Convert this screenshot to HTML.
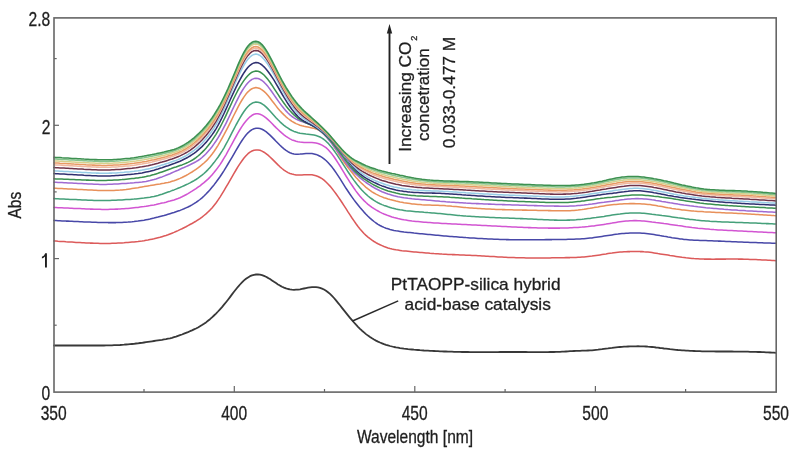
<!DOCTYPE html>
<html><head><meta charset="utf-8"><style>
html,body{margin:0;padding:0;background:#fff;}
body{width:794px;height:454px;overflow:hidden;position:relative;}
svg{position:absolute;left:0;top:0;will-change:transform;}
text{font-family:"Liberation Sans", sans-serif;}
</style></head><body>
<svg width="794" height="454" viewBox="0 0 794 454" xmlns="http://www.w3.org/2000/svg">
<g fill="none" stroke-width="1.6" stroke-linejoin="round" stroke-linecap="round">
<path d="M54,345.5 L56,345.5 L58,345.5 L60,345.5 L62,345.5 L64,345.5 L66,345.5 L68,345.5 L70,345.5 L72,345.5 L74,345.5 L76,345.5 L78,345.5 L80,345.5 L82,345.5 L84,345.5 L86,345.5 L88,345.5 L90,345.5 L92,345.5 L94,345.5 L96,345.5 L98,345.5 L100,345.5 L102,345.5 L104,345.5 L106,345.4 L108,345.4 L110,345.4 L112,345.3 L114,345.2 L116,345.2 L118,345.1 L120,345.0 L122,344.8 L124,344.7 L126,344.5 L128,344.4 L130,344.2 L132,344.0 L134,343.8 L136,343.5 L138,343.3 L140,343.0 L142,342.8 L144,342.5 L146,342.2 L148,341.9 L150,341.6 L152,341.3 L154,341.0 L156,340.7 L158,340.4 L160,340.1 L162,339.8 L164,339.4 L166,339.1 L168,338.7 L170,338.3 L172,337.8 L174,337.2 L176,336.6 L178,335.9 L180,335.2 L182,334.5 L184,333.7 L186,332.9 L188,332.1 L190,331.2 L192,330.4 L194,329.4 L196,328.5 L198,327.5 L200,326.3 L202,325.1 L204,323.8 L206,322.4 L208,320.8 L210,319.2 L212,317.4 L214,315.5 L216,313.6 L218,311.5 L220,309.3 L222,307.1 L224,304.7 L226,302.2 L228,299.7 L230,297.1 L232,294.4 L234,291.8 L236,289.3 L238,286.8 L240,284.5 L242,282.4 L244,280.4 L246,278.8 L248,277.4 L250,276.2 L252,275.4 L254,274.8 L256,274.5 L258,274.5 L260,274.7 L262,275.2 L264,275.9 L266,276.8 L268,277.9 L270,279.1 L272,280.4 L274,281.8 L276,283.1 L278,284.4 L280,285.6 L282,286.7 L284,287.6 L286,288.4 L288,289.0 L290,289.4 L292,289.7 L294,289.8 L296,289.7 L298,289.6 L300,289.3 L302,288.9 L304,288.5 L306,288.1 L308,287.7 L310,287.4 L312,287.2 L314,287.1 L316,287.2 L318,287.4 L320,287.9 L322,288.6 L324,289.5 L326,290.7 L328,292.2 L330,293.9 L332,295.9 L334,298.0 L336,300.4 L338,302.8 L340,305.3 L342,307.9 L344,310.4 L346,312.9 L348,315.4 L350,317.8 L352,320.2 L354,322.5 L356,324.7 L358,326.8 L360,328.8 L362,330.7 L364,332.4 L366,334.1 L368,335.6 L370,337.0 L372,338.3 L374,339.5 L376,340.6 L378,341.6 L380,342.5 L382,343.3 L384,344.1 L386,344.8 L388,345.4 L390,346.0 L392,346.5 L394,347.0 L396,347.4 L398,347.7 L400,348.1 L402,348.3 L404,348.6 L406,348.8 L408,349.1 L410,349.3 L412,349.5 L414,349.7 L416,349.8 L418,350.0 L420,350.2 L422,350.3 L424,350.5 L426,350.6 L428,350.7 L430,350.8 L432,350.9 L434,351.0 L436,351.1 L438,351.2 L440,351.3 L442,351.4 L444,351.5 L446,351.5 L448,351.6 L450,351.7 L452,351.7 L454,351.8 L456,351.8 L458,351.9 L460,351.9 L462,352.0 L464,352.0 L466,352.0 L468,352.0 L470,352.1 L472,352.1 L474,352.1 L476,352.1 L478,352.1 L480,352.1 L482,352.1 L484,352.1 L486,352.1 L488,352.1 L490,352.1 L492,352.1 L494,352.1 L496,352.1 L498,352.1 L500,352.0 L502,352.0 L504,352.0 L506,352.0 L508,352.0 L510,352.0 L512,352.0 L514,352.0 L516,352.0 L518,352.0 L520,352.0 L522,352.0 L524,352.0 L526,352.0 L528,352.1 L530,352.1 L532,352.1 L534,352.1 L536,352.1 L538,352.1 L540,352.1 L542,352.1 L544,352.1 L546,352.1 L548,352.1 L550,352.0 L552,352.0 L554,352.0 L556,351.9 L558,351.8 L560,351.8 L562,351.7 L564,351.6 L566,351.5 L568,351.4 L570,351.2 L572,351.1 L574,351.0 L576,350.9 L578,350.8 L580,350.8 L582,350.7 L584,350.7 L586,350.6 L588,350.5 L590,350.4 L592,350.3 L594,350.1 L596,349.9 L598,349.7 L600,349.4 L602,349.2 L604,348.9 L606,348.6 L608,348.4 L610,348.1 L612,347.9 L614,347.6 L616,347.4 L618,347.2 L620,347.0 L622,346.9 L624,346.7 L626,346.6 L628,346.5 L630,346.4 L632,346.4 L634,346.3 L636,346.3 L638,346.2 L640,346.3 L642,346.3 L644,346.4 L646,346.5 L648,346.7 L650,346.8 L652,347.0 L654,347.2 L656,347.5 L658,347.7 L660,348.0 L662,348.2 L664,348.5 L666,348.7 L668,348.9 L670,349.2 L672,349.4 L674,349.6 L676,349.8 L678,350.0 L680,350.1 L682,350.3 L684,350.4 L686,350.6 L688,350.7 L690,350.8 L692,350.9 L694,351.0 L696,351.1 L698,351.1 L700,351.2 L702,351.3 L704,351.3 L706,351.3 L708,351.4 L710,351.4 L712,351.4 L714,351.4 L716,351.5 L718,351.5 L720,351.5 L722,351.5 L724,351.5 L726,351.5 L728,351.5 L730,351.5 L732,351.5 L734,351.6 L736,351.6 L738,351.6 L740,351.6 L742,351.6 L744,351.7 L746,351.7 L748,351.7 L750,351.8 L752,351.8 L754,351.9 L756,351.9 L758,352.0 L760,352.0 L762,352.1 L764,352.2 L766,352.3 L768,352.4 L770,352.5 L772,352.6 L774,352.7 L776,352.8" stroke="#383838" stroke-width="1.8"/>
<path d="M54,241.0 L56,241.1 L58,241.3 L60,241.4 L62,241.5 L64,241.6 L66,241.8 L68,241.9 L70,242.0 L72,242.1 L74,242.2 L76,242.4 L78,242.5 L80,242.6 L82,242.7 L84,242.8 L86,242.9 L88,243.0 L90,243.1 L92,243.1 L94,243.2 L96,243.3 L98,243.3 L100,243.4 L102,243.4 L104,243.4 L106,243.4 L108,243.4 L110,243.4 L112,243.3 L114,243.3 L116,243.2 L118,243.1 L120,243.0 L122,242.9 L124,242.8 L126,242.6 L128,242.5 L130,242.3 L132,242.1 L134,241.9 L136,241.7 L138,241.5 L140,241.2 L142,241.0 L144,240.7 L146,240.3 L148,240.0 L150,239.6 L152,239.2 L154,238.8 L156,238.3 L158,237.8 L160,237.3 L162,236.7 L164,236.1 L166,235.5 L168,234.8 L170,234.0 L172,233.2 L174,232.4 L176,231.5 L178,230.6 L180,229.6 L182,228.7 L184,227.7 L186,226.7 L188,225.6 L190,224.5 L192,223.5 L194,222.3 L196,221.2 L198,219.9 L200,218.6 L202,217.1 L204,215.5 L206,213.9 L208,212.0 L210,210.1 L212,207.9 L214,205.5 L216,203.0 L218,200.1 L220,197.1 L222,193.9 L224,190.6 L226,187.2 L228,183.8 L230,180.3 L232,176.8 L234,173.4 L236,170.0 L238,166.7 L240,163.6 L242,160.7 L244,158.0 L246,155.7 L248,153.7 L250,152.1 L252,151.0 L254,150.2 L256,149.9 L258,149.9 L260,150.3 L262,151.1 L264,152.2 L266,153.6 L268,155.2 L270,157.0 L272,158.9 L274,160.9 L276,162.9 L278,164.9 L280,166.8 L282,168.5 L284,170.1 L286,171.4 L288,172.6 L290,173.5 L292,174.1 L294,174.6 L296,174.9 L298,175.0 L300,175.0 L302,174.9 L304,174.8 L306,174.7 L308,174.7 L310,174.7 L312,174.8 L314,175.2 L316,175.7 L318,176.5 L320,177.5 L322,178.7 L324,180.2 L326,182.0 L328,184.0 L330,186.1 L332,188.5 L334,191.1 L336,193.7 L338,196.6 L340,199.5 L342,202.5 L344,205.6 L346,208.7 L348,211.9 L350,214.9 L352,218.0 L354,220.9 L356,223.8 L358,226.5 L360,229.0 L362,231.3 L364,233.5 L366,235.4 L368,237.1 L370,238.7 L372,240.2 L374,241.5 L376,242.7 L378,243.8 L380,244.7 L382,245.6 L384,246.5 L386,247.2 L388,247.9 L390,248.5 L392,249.0 L394,249.4 L396,249.8 L398,250.1 L400,250.4 L402,250.7 L404,250.9 L406,251.1 L408,251.3 L410,251.5 L412,251.7 L414,251.9 L416,252.0 L418,252.2 L420,252.4 L422,252.6 L424,252.8 L426,253.0 L428,253.1 L430,253.3 L432,253.4 L434,253.6 L436,253.7 L438,253.8 L440,253.9 L442,254.1 L444,254.2 L446,254.3 L448,254.4 L450,254.5 L452,254.6 L454,254.6 L456,254.7 L458,254.8 L460,254.9 L462,255.0 L464,255.1 L466,255.2 L468,255.3 L470,255.3 L472,255.4 L474,255.5 L476,255.6 L478,255.7 L480,255.8 L482,256.0 L484,256.1 L486,256.2 L488,256.3 L490,256.4 L492,256.5 L494,256.6 L496,256.7 L498,256.9 L500,257.0 L502,257.1 L504,257.2 L506,257.3 L508,257.4 L510,257.4 L512,257.5 L514,257.6 L516,257.7 L518,257.7 L520,257.8 L522,257.8 L524,257.8 L526,257.9 L528,257.9 L530,257.9 L532,257.9 L534,257.9 L536,257.9 L538,257.9 L540,257.9 L542,257.9 L544,257.9 L546,257.9 L548,257.9 L550,257.9 L552,257.8 L554,257.8 L556,257.8 L558,257.8 L560,257.7 L562,257.7 L564,257.7 L566,257.6 L568,257.6 L570,257.6 L572,257.5 L574,257.4 L576,257.4 L578,257.3 L580,257.2 L582,257.0 L584,256.9 L586,256.7 L588,256.5 L590,256.3 L592,256.1 L594,255.8 L596,255.5 L598,255.2 L600,254.9 L602,254.6 L604,254.3 L606,254.0 L608,253.6 L610,253.3 L612,253.1 L614,252.8 L616,252.5 L618,252.3 L620,252.1 L622,252.0 L624,251.8 L626,251.7 L628,251.6 L630,251.6 L632,251.5 L634,251.5 L636,251.5 L638,251.5 L640,251.6 L642,251.6 L644,251.8 L646,251.9 L648,252.1 L650,252.3 L652,252.6 L654,252.9 L656,253.2 L658,253.6 L660,253.9 L662,254.2 L664,254.5 L666,254.8 L668,255.1 L670,255.5 L672,255.8 L674,256.1 L676,256.4 L678,256.7 L680,257.0 L682,257.3 L684,257.5 L686,257.8 L688,258.0 L690,258.2 L692,258.4 L694,258.6 L696,258.7 L698,258.8 L700,258.9 L702,259.0 L704,259.1 L706,259.1 L708,259.1 L710,259.1 L712,259.2 L714,259.2 L716,259.1 L718,259.1 L720,259.1 L722,259.1 L724,259.1 L726,259.1 L728,259.0 L730,259.0 L732,259.0 L734,259.0 L736,259.0 L738,259.1 L740,259.1 L742,259.1 L744,259.2 L746,259.2 L748,259.3 L750,259.4 L752,259.4 L754,259.5 L756,259.6 L758,259.7 L760,259.8 L762,259.9 L764,260.0 L766,260.1 L768,260.2 L770,260.3 L772,260.5 L774,260.6 L776,260.7" stroke="#dc5a5a" stroke-width="1.55"/>
<path d="M54,220.5 L56,220.6 L58,220.7 L60,220.8 L62,220.9 L64,221.0 L66,221.1 L68,221.1 L70,221.2 L72,221.3 L74,221.4 L76,221.5 L78,221.6 L80,221.7 L82,221.8 L84,221.9 L86,221.9 L88,222.0 L90,222.1 L92,222.2 L94,222.2 L96,222.3 L98,222.4 L100,222.4 L102,222.5 L104,222.5 L106,222.5 L108,222.6 L110,222.6 L112,222.6 L114,222.6 L116,222.6 L118,222.5 L120,222.5 L122,222.4 L124,222.3 L126,222.2 L128,222.1 L130,221.9 L132,221.8 L134,221.6 L136,221.3 L138,221.1 L140,220.8 L142,220.5 L144,220.2 L146,219.8 L148,219.4 L150,219.0 L152,218.5 L154,218.1 L156,217.6 L158,217.1 L160,216.5 L162,216.0 L164,215.5 L166,214.9 L168,214.3 L170,213.7 L172,213.1 L174,212.5 L176,211.8 L178,211.1 L180,210.4 L182,209.6 L184,208.8 L186,207.9 L188,207.0 L190,206.0 L192,204.9 L194,203.7 L196,202.4 L198,201.0 L200,199.5 L202,197.8 L204,196.0 L206,194.0 L208,191.9 L210,189.7 L212,187.3 L214,184.9 L216,182.3 L218,179.5 L220,176.7 L222,173.7 L224,170.6 L226,167.3 L228,164.0 L230,160.7 L232,157.3 L234,153.8 L236,150.4 L238,147.0 L240,143.7 L242,140.5 L244,137.6 L246,135.0 L248,132.8 L250,131.0 L252,129.6 L254,128.7 L256,128.3 L258,128.2 L260,128.5 L262,129.2 L264,130.3 L266,131.6 L268,133.3 L270,135.1 L272,137.1 L274,139.1 L276,141.2 L278,143.2 L280,145.2 L282,147.1 L284,148.8 L286,150.4 L288,151.7 L290,152.7 L292,153.4 L294,153.9 L296,154.2 L298,154.2 L300,154.1 L302,153.9 L304,153.7 L306,153.5 L308,153.4 L310,153.4 L312,153.5 L314,153.9 L316,154.4 L318,155.2 L320,156.2 L322,157.4 L324,158.8 L326,160.5 L328,162.5 L330,164.7 L332,167.1 L334,169.7 L336,172.6 L338,175.6 L340,178.7 L342,181.9 L344,185.1 L346,188.3 L348,191.3 L350,194.3 L352,197.1 L354,199.9 L356,202.5 L358,205.0 L360,207.5 L362,209.8 L364,212.1 L366,214.2 L368,216.2 L370,218.1 L372,219.8 L374,221.5 L376,223.0 L378,224.3 L380,225.5 L382,226.5 L384,227.4 L386,228.2 L388,228.8 L390,229.4 L392,229.9 L394,230.4 L396,230.8 L398,231.1 L400,231.4 L402,231.7 L404,232.0 L406,232.2 L408,232.4 L410,232.6 L412,232.8 L414,233.1 L416,233.3 L418,233.5 L420,233.7 L422,233.8 L424,234.0 L426,234.2 L428,234.4 L430,234.6 L432,234.8 L434,235.0 L436,235.2 L438,235.3 L440,235.5 L442,235.7 L444,235.9 L446,236.0 L448,236.2 L450,236.4 L452,236.5 L454,236.7 L456,236.8 L458,237.0 L460,237.2 L462,237.3 L464,237.4 L466,237.6 L468,237.7 L470,237.9 L472,238.0 L474,238.1 L476,238.2 L478,238.4 L480,238.5 L482,238.6 L484,238.7 L486,238.8 L488,238.9 L490,239.0 L492,239.1 L494,239.2 L496,239.3 L498,239.3 L500,239.4 L502,239.5 L504,239.5 L506,239.6 L508,239.6 L510,239.7 L512,239.7 L514,239.8 L516,239.8 L518,239.8 L520,239.8 L522,239.8 L524,239.8 L526,239.8 L528,239.8 L530,239.8 L532,239.8 L534,239.8 L536,239.8 L538,239.8 L540,239.7 L542,239.7 L544,239.7 L546,239.6 L548,239.6 L550,239.6 L552,239.6 L554,239.5 L556,239.5 L558,239.5 L560,239.4 L562,239.4 L564,239.4 L566,239.4 L568,239.3 L570,239.3 L572,239.2 L574,239.2 L576,239.1 L578,239.0 L580,238.9 L582,238.8 L584,238.7 L586,238.5 L588,238.3 L590,238.1 L592,237.9 L594,237.6 L596,237.3 L598,237.0 L600,236.7 L602,236.4 L604,236.1 L606,235.8 L608,235.5 L610,235.2 L612,234.9 L614,234.6 L616,234.3 L618,234.1 L620,233.8 L622,233.6 L624,233.5 L626,233.3 L628,233.2 L630,233.1 L632,233.0 L634,233.0 L636,233.0 L638,233.0 L640,233.1 L642,233.2 L644,233.3 L646,233.5 L648,233.7 L650,234.0 L652,234.3 L654,234.6 L656,234.9 L658,235.2 L660,235.6 L662,235.9 L664,236.3 L666,236.6 L668,237.0 L670,237.3 L672,237.7 L674,238.0 L676,238.3 L678,238.6 L680,238.9 L682,239.1 L684,239.4 L686,239.6 L688,239.8 L690,240.0 L692,240.1 L694,240.2 L696,240.3 L698,240.3 L700,240.4 L702,240.5 L704,240.5 L706,240.6 L708,240.7 L710,240.7 L712,240.8 L714,240.9 L716,241.0 L718,241.1 L720,241.1 L722,241.2 L724,241.3 L726,241.4 L728,241.5 L730,241.6 L732,241.7 L734,241.7 L736,241.8 L738,241.9 L740,242.0 L742,242.1 L744,242.2 L746,242.2 L748,242.3 L750,242.4 L752,242.5 L754,242.5 L756,242.6 L758,242.7 L760,242.8 L762,242.8 L764,242.9 L766,243.0 L768,243.0 L770,243.1 L772,243.2 L774,243.2 L776,243.3" stroke="#4848a8" stroke-width="1.55"/>
<path d="M54,207.5 L56,207.6 L58,207.7 L60,207.8 L62,207.8 L64,207.9 L66,208.0 L68,208.1 L70,208.2 L72,208.3 L74,208.4 L76,208.4 L78,208.5 L80,208.6 L82,208.7 L84,208.8 L86,208.9 L88,209.0 L90,209.1 L92,209.1 L94,209.2 L96,209.3 L98,209.3 L100,209.3 L102,209.4 L104,209.4 L106,209.4 L108,209.4 L110,209.3 L112,209.3 L114,209.2 L116,209.1 L118,209.1 L120,208.9 L122,208.8 L124,208.7 L126,208.5 L128,208.4 L130,208.2 L132,208.0 L134,207.8 L136,207.6 L138,207.4 L140,207.1 L142,206.8 L144,206.6 L146,206.3 L148,205.9 L150,205.6 L152,205.2 L154,204.9 L156,204.5 L158,204.0 L160,203.6 L162,203.1 L164,202.7 L166,202.2 L168,201.6 L170,201.1 L172,200.5 L174,199.9 L176,199.2 L178,198.5 L180,197.7 L182,196.8 L184,195.8 L186,194.7 L188,193.6 L190,192.4 L192,191.2 L194,189.9 L196,188.6 L198,187.2 L200,185.8 L202,184.2 L204,182.7 L206,180.9 L208,179.1 L210,177.1 L212,174.9 L214,172.6 L216,170.1 L218,167.4 L220,164.6 L222,161.5 L224,158.2 L226,154.8 L228,151.2 L230,147.5 L232,143.8 L234,140.1 L236,136.5 L238,132.9 L240,129.5 L242,126.4 L244,123.5 L246,121.0 L248,118.7 L250,116.8 L252,115.3 L254,114.3 L256,113.8 L258,113.8 L260,114.2 L262,115.1 L264,116.3 L266,117.8 L268,119.6 L270,121.5 L272,123.5 L274,125.6 L276,127.6 L278,129.5 L280,131.4 L282,133.2 L284,134.9 L286,136.4 L288,137.7 L290,138.9 L292,139.9 L294,140.6 L296,141.3 L298,141.7 L300,142.0 L302,142.2 L304,142.4 L306,142.4 L308,142.5 L310,142.5 L312,142.6 L314,142.8 L316,143.1 L318,143.5 L320,144.2 L322,145.1 L324,146.3 L326,147.7 L328,149.5 L330,151.7 L332,154.1 L334,156.7 L336,159.7 L338,162.8 L340,166.0 L342,169.4 L344,172.7 L346,176.0 L348,179.2 L350,182.3 L352,185.3 L354,188.3 L356,191.1 L358,193.7 L360,196.2 L362,198.5 L364,200.6 L366,202.5 L368,204.3 L370,205.9 L372,207.4 L374,208.7 L376,209.9 L378,211.0 L380,212.1 L382,213.1 L384,214.0 L386,214.8 L388,215.6 L390,216.3 L392,217.0 L394,217.6 L396,218.1 L398,218.6 L400,219.0 L402,219.4 L404,219.8 L406,220.1 L408,220.4 L410,220.7 L412,221.0 L414,221.2 L416,221.4 L418,221.6 L420,221.8 L422,222.0 L424,222.2 L426,222.3 L428,222.5 L430,222.6 L432,222.7 L434,222.9 L436,223.0 L438,223.1 L440,223.2 L442,223.4 L444,223.5 L446,223.6 L448,223.7 L450,223.8 L452,223.9 L454,224.0 L456,224.1 L458,224.2 L460,224.3 L462,224.4 L464,224.5 L466,224.6 L468,224.7 L470,224.8 L472,224.9 L474,225.0 L476,225.1 L478,225.2 L480,225.3 L482,225.4 L484,225.5 L486,225.6 L488,225.7 L490,225.8 L492,225.9 L494,226.0 L496,226.1 L498,226.2 L500,226.3 L502,226.4 L504,226.5 L506,226.6 L508,226.7 L510,226.8 L512,226.9 L514,227.0 L516,227.1 L518,227.2 L520,227.3 L522,227.3 L524,227.4 L526,227.5 L528,227.6 L530,227.6 L532,227.7 L534,227.8 L536,227.8 L538,227.9 L540,227.9 L542,228.0 L544,228.0 L546,228.0 L548,228.1 L550,228.1 L552,228.1 L554,228.1 L556,228.1 L558,228.1 L560,228.1 L562,228.0 L564,228.0 L566,227.9 L568,227.9 L570,227.8 L572,227.7 L574,227.6 L576,227.5 L578,227.4 L580,227.2 L582,227.1 L584,226.9 L586,226.7 L588,226.6 L590,226.3 L592,226.1 L594,225.9 L596,225.6 L598,225.3 L600,225.0 L602,224.7 L604,224.4 L606,224.1 L608,223.7 L610,223.4 L612,223.1 L614,222.7 L616,222.4 L618,222.1 L620,221.8 L622,221.5 L624,221.3 L626,221.1 L628,220.9 L630,220.8 L632,220.7 L634,220.6 L636,220.6 L638,220.7 L640,220.8 L642,220.9 L644,221.1 L646,221.3 L648,221.5 L650,221.7 L652,222.0 L654,222.2 L656,222.5 L658,222.7 L660,223.0 L662,223.3 L664,223.6 L666,223.8 L668,224.1 L670,224.4 L672,224.7 L674,225.0 L676,225.3 L678,225.6 L680,225.8 L682,226.1 L684,226.4 L686,226.7 L688,226.9 L690,227.2 L692,227.5 L694,227.7 L696,227.9 L698,228.2 L700,228.4 L702,228.6 L704,228.8 L706,229.0 L708,229.1 L710,229.3 L712,229.4 L714,229.6 L716,229.7 L718,229.9 L720,230.0 L722,230.1 L724,230.2 L726,230.3 L728,230.4 L730,230.5 L732,230.6 L734,230.7 L736,230.8 L738,230.9 L740,231.0 L742,231.1 L744,231.2 L746,231.3 L748,231.4 L750,231.5 L752,231.6 L754,231.7 L756,231.8 L758,231.9 L760,232.0 L762,232.1 L764,232.2 L766,232.3 L768,232.4 L770,232.5 L772,232.6 L774,232.7 L776,232.8" stroke="#d255d2" stroke-width="1.55"/>
<path d="M54,198.6 L56,198.7 L58,198.8 L60,198.9 L62,199.0 L64,199.1 L66,199.2 L68,199.3 L70,199.4 L72,199.4 L74,199.5 L76,199.6 L78,199.7 L80,199.8 L82,199.9 L84,200.0 L86,200.1 L88,200.2 L90,200.2 L92,200.3 L94,200.4 L96,200.4 L98,200.4 L100,200.5 L102,200.5 L104,200.5 L106,200.5 L108,200.4 L110,200.4 L112,200.3 L114,200.3 L116,200.2 L118,200.1 L120,200.0 L122,199.9 L124,199.7 L126,199.6 L128,199.5 L130,199.4 L132,199.2 L134,199.1 L136,198.9 L138,198.7 L140,198.5 L142,198.3 L144,198.1 L146,197.8 L148,197.5 L150,197.2 L152,196.8 L154,196.4 L156,195.9 L158,195.4 L160,194.8 L162,194.2 L164,193.5 L166,192.8 L168,192.1 L170,191.4 L172,190.6 L174,189.9 L176,189.1 L178,188.3 L180,187.5 L182,186.6 L184,185.7 L186,184.8 L188,183.9 L190,182.9 L192,181.8 L194,180.7 L196,179.5 L198,178.2 L200,176.7 L202,175.2 L204,173.5 L206,171.6 L208,169.6 L210,167.4 L212,165.1 L214,162.6 L216,159.9 L218,157.2 L220,154.2 L222,151.1 L224,147.8 L226,144.2 L228,140.5 L230,136.6 L232,132.7 L234,128.8 L236,125.0 L238,121.4 L240,117.8 L242,114.5 L244,111.5 L246,108.8 L248,106.5 L250,104.6 L252,103.3 L254,102.4 L256,102.1 L258,102.2 L260,102.8 L262,103.8 L264,105.1 L266,106.9 L268,108.9 L270,111.0 L272,113.2 L274,115.5 L276,117.7 L278,119.8 L280,121.8 L282,123.6 L284,125.3 L286,126.9 L288,128.2 L290,129.5 L292,130.5 L294,131.4 L296,132.1 L298,132.7 L300,133.2 L302,133.5 L304,133.8 L306,134.1 L308,134.3 L310,134.5 L312,134.7 L314,135.1 L316,135.6 L318,136.2 L320,137.0 L322,138.1 L324,139.5 L326,141.2 L328,143.1 L330,145.4 L332,147.8 L334,150.5 L336,153.4 L338,156.3 L340,159.4 L342,162.5 L344,165.6 L346,168.7 L348,171.8 L350,174.7 L352,177.6 L354,180.4 L356,183.0 L358,185.6 L360,188.0 L362,190.2 L364,192.3 L366,194.2 L368,196.0 L370,197.6 L372,199.0 L374,200.4 L376,201.6 L378,202.7 L380,203.7 L382,204.6 L384,205.4 L386,206.1 L388,206.8 L390,207.4 L392,208.0 L394,208.5 L396,209.0 L398,209.4 L400,209.8 L402,210.1 L404,210.4 L406,210.7 L408,210.9 L410,211.1 L412,211.3 L414,211.5 L416,211.7 L418,211.8 L420,212.0 L422,212.1 L424,212.3 L426,212.4 L428,212.6 L430,212.7 L432,212.9 L434,213.1 L436,213.3 L438,213.5 L440,213.6 L442,213.8 L444,214.0 L446,214.2 L448,214.4 L450,214.6 L452,214.8 L454,215.0 L456,215.2 L458,215.4 L460,215.6 L462,215.7 L464,215.9 L466,216.1 L468,216.2 L470,216.3 L472,216.5 L474,216.6 L476,216.7 L478,216.8 L480,216.9 L482,217.0 L484,217.1 L486,217.2 L488,217.3 L490,217.4 L492,217.5 L494,217.6 L496,217.7 L498,217.7 L500,217.8 L502,217.9 L504,218.0 L506,218.0 L508,218.1 L510,218.2 L512,218.3 L514,218.3 L516,218.4 L518,218.5 L520,218.6 L522,218.6 L524,218.7 L526,218.8 L528,218.9 L530,219.0 L532,219.1 L534,219.2 L536,219.3 L538,219.4 L540,219.5 L542,219.6 L544,219.7 L546,219.8 L548,219.8 L550,219.9 L552,220.0 L554,220.1 L556,220.1 L558,220.2 L560,220.2 L562,220.2 L564,220.2 L566,220.2 L568,220.1 L570,220.1 L572,220.0 L574,219.9 L576,219.8 L578,219.6 L580,219.4 L582,219.3 L584,219.1 L586,218.8 L588,218.6 L590,218.4 L592,218.1 L594,217.8 L596,217.6 L598,217.3 L600,217.0 L602,216.7 L604,216.4 L606,216.0 L608,215.7 L610,215.4 L612,215.1 L614,214.8 L616,214.5 L618,214.2 L620,214.0 L622,213.7 L624,213.5 L626,213.3 L628,213.2 L630,213.0 L632,213.0 L634,212.9 L636,212.9 L638,213.0 L640,213.1 L642,213.2 L644,213.3 L646,213.5 L648,213.7 L650,213.9 L652,214.2 L654,214.4 L656,214.7 L658,214.9 L660,215.2 L662,215.5 L664,215.7 L666,216.0 L668,216.3 L670,216.6 L672,216.9 L674,217.2 L676,217.5 L678,217.8 L680,218.0 L682,218.3 L684,218.6 L686,218.9 L688,219.1 L690,219.4 L692,219.6 L694,219.8 L696,220.1 L698,220.3 L700,220.5 L702,220.7 L704,220.8 L706,221.0 L708,221.1 L710,221.3 L712,221.4 L714,221.5 L716,221.6 L718,221.7 L720,221.8 L722,221.9 L724,222.0 L726,222.0 L728,222.1 L730,222.2 L732,222.2 L734,222.3 L736,222.4 L738,222.4 L740,222.5 L742,222.6 L744,222.7 L746,222.7 L748,222.8 L750,222.9 L752,223.0 L754,223.0 L756,223.1 L758,223.2 L760,223.3 L762,223.4 L764,223.5 L766,223.6 L768,223.6 L770,223.7 L772,223.8 L774,223.9 L776,224.0" stroke="#45a07a" stroke-width="1.55"/>
<path d="M54,188.2 L56,188.3 L58,188.4 L60,188.5 L62,188.6 L64,188.7 L66,188.8 L68,188.9 L70,189.0 L72,189.1 L74,189.2 L76,189.3 L78,189.4 L80,189.5 L82,189.6 L84,189.7 L86,189.8 L88,189.9 L90,190.0 L92,190.1 L94,190.2 L96,190.3 L98,190.4 L100,190.4 L102,190.5 L104,190.5 L106,190.5 L108,190.5 L110,190.5 L112,190.5 L114,190.4 L116,190.3 L118,190.2 L120,190.1 L122,189.9 L124,189.7 L126,189.5 L128,189.2 L130,188.9 L132,188.6 L134,188.3 L136,188.0 L138,187.7 L140,187.3 L142,186.9 L144,186.6 L146,186.2 L148,185.9 L150,185.6 L152,185.2 L154,184.9 L156,184.6 L158,184.3 L160,184.0 L162,183.6 L164,183.3 L166,182.8 L168,182.4 L170,181.9 L172,181.3 L174,180.7 L176,180.0 L178,179.2 L180,178.4 L182,177.5 L184,176.5 L186,175.5 L188,174.4 L190,173.2 L192,172.0 L194,170.7 L196,169.3 L198,167.9 L200,166.3 L202,164.7 L204,163.0 L206,161.2 L208,159.1 L210,156.8 L212,154.3 L214,151.5 L216,148.5 L218,145.3 L220,141.9 L222,138.3 L224,134.7 L226,130.9 L228,127.1 L230,123.1 L232,119.1 L234,115.0 L236,111.1 L238,107.2 L240,103.4 L242,100.0 L244,96.9 L246,94.1 L248,91.8 L250,90.0 L252,88.7 L254,87.9 L256,87.6 L258,87.9 L260,88.6 L262,89.8 L264,91.4 L266,93.3 L268,95.6 L270,98.1 L272,100.7 L274,103.3 L276,105.9 L278,108.4 L280,110.8 L282,112.9 L284,114.9 L286,116.8 L288,118.5 L290,120.0 L292,121.4 L294,122.5 L296,123.6 L298,124.4 L300,125.2 L302,125.8 L304,126.3 L306,126.7 L308,127.1 L310,127.5 L312,127.9 L314,128.3 L316,128.9 L318,129.7 L320,130.7 L322,132.0 L324,133.7 L326,135.7 L328,138.0 L330,140.6 L332,143.4 L334,146.5 L336,149.6 L338,152.8 L340,156.0 L342,159.0 L344,162.0 L346,164.8 L348,167.5 L350,170.1 L352,172.6 L354,175.0 L356,177.4 L358,179.6 L360,181.7 L362,183.7 L364,185.5 L366,187.3 L368,188.9 L370,190.4 L372,191.8 L374,193.0 L376,194.1 L378,195.1 L380,196.1 L382,196.9 L384,197.7 L386,198.3 L388,199.0 L390,199.6 L392,200.1 L394,200.6 L396,201.1 L398,201.5 L400,202.0 L402,202.3 L404,202.7 L406,203.0 L408,203.3 L410,203.6 L412,203.9 L414,204.1 L416,204.3 L418,204.5 L420,204.6 L422,204.8 L424,204.9 L426,205.0 L428,205.0 L430,205.1 L432,205.2 L434,205.2 L436,205.3 L438,205.3 L440,205.4 L442,205.5 L444,205.6 L446,205.8 L448,205.9 L450,206.1 L452,206.3 L454,206.4 L456,206.6 L458,206.8 L460,207.0 L462,207.2 L464,207.4 L466,207.6 L468,207.7 L470,207.9 L472,208.0 L474,208.2 L476,208.3 L478,208.5 L480,208.6 L482,208.7 L484,208.8 L486,208.9 L488,209.0 L490,209.1 L492,209.2 L494,209.3 L496,209.4 L498,209.4 L500,209.5 L502,209.6 L504,209.6 L506,209.7 L508,209.7 L510,209.8 L512,209.8 L514,209.9 L516,209.9 L518,210.0 L520,210.0 L522,210.1 L524,210.1 L526,210.1 L528,210.2 L530,210.2 L532,210.2 L534,210.3 L536,210.3 L538,210.4 L540,210.4 L542,210.5 L544,210.5 L546,210.5 L548,210.6 L550,210.6 L552,210.7 L554,210.7 L556,210.7 L558,210.8 L560,210.8 L562,210.8 L564,210.8 L566,210.8 L568,210.8 L570,210.7 L572,210.6 L574,210.5 L576,210.3 L578,210.1 L580,209.8 L582,209.6 L584,209.3 L586,208.9 L588,208.6 L590,208.3 L592,207.9 L594,207.6 L596,207.2 L598,206.9 L600,206.5 L602,206.2 L604,205.9 L606,205.6 L608,205.3 L610,205.0 L612,204.8 L614,204.6 L616,204.4 L618,204.2 L620,204.0 L622,203.9 L624,203.8 L626,203.7 L628,203.7 L630,203.6 L632,203.6 L634,203.6 L636,203.7 L638,203.7 L640,203.8 L642,203.9 L644,204.0 L646,204.2 L648,204.4 L650,204.6 L652,204.9 L654,205.2 L656,205.5 L658,205.9 L660,206.2 L662,206.6 L664,207.0 L666,207.4 L668,207.8 L670,208.1 L672,208.5 L674,208.8 L676,209.1 L678,209.3 L680,209.6 L682,209.9 L684,210.1 L686,210.3 L688,210.5 L690,210.7 L692,210.9 L694,211.1 L696,211.2 L698,211.4 L700,211.5 L702,211.6 L704,211.8 L706,211.9 L708,212.0 L710,212.1 L712,212.2 L714,212.3 L716,212.4 L718,212.5 L720,212.6 L722,212.7 L724,212.8 L726,212.9 L728,213.0 L730,213.0 L732,213.1 L734,213.2 L736,213.3 L738,213.4 L740,213.5 L742,213.6 L744,213.7 L746,213.8 L748,213.9 L750,214.0 L752,214.2 L754,214.3 L756,214.4 L758,214.5 L760,214.7 L762,214.8 L764,214.9 L766,215.0 L768,215.2 L770,215.3 L772,215.4 L774,215.6 L776,215.7" stroke="#e8905a" stroke-width="1.55"/>
<path d="M54,182.2 L56,182.3 L58,182.4 L60,182.5 L62,182.6 L64,182.7 L66,182.8 L68,182.9 L70,183.0 L72,183.1 L74,183.2 L76,183.3 L78,183.4 L80,183.5 L82,183.6 L84,183.7 L86,183.8 L88,183.9 L90,184.0 L92,184.1 L94,184.2 L96,184.3 L98,184.3 L100,184.4 L102,184.4 L104,184.4 L106,184.4 L108,184.3 L110,184.3 L112,184.2 L114,184.1 L116,184.0 L118,183.9 L120,183.7 L122,183.6 L124,183.5 L126,183.4 L128,183.2 L130,183.1 L132,182.9 L134,182.8 L136,182.6 L138,182.4 L140,182.2 L142,182.0 L144,181.7 L146,181.4 L148,181.0 L150,180.6 L152,180.1 L154,179.6 L156,179.0 L158,178.3 L160,177.6 L162,176.9 L164,176.1 L166,175.3 L168,174.5 L170,173.7 L172,172.8 L174,171.9 L176,171.0 L178,170.2 L180,169.2 L182,168.3 L184,167.5 L186,166.6 L188,165.7 L190,164.8 L192,163.8 L194,162.8 L196,161.7 L198,160.5 L200,159.1 L202,157.5 L204,155.7 L206,153.7 L208,151.5 L210,149.2 L212,146.7 L214,143.9 L216,141.0 L218,137.8 L220,134.5 L222,130.9 L224,127.2 L226,123.3 L228,119.2 L230,115.0 L232,110.7 L234,106.5 L236,102.3 L238,98.3 L240,94.5 L242,91.0 L244,87.9 L246,85.1 L248,82.7 L250,80.8 L252,79.4 L254,78.6 L256,78.3 L258,78.5 L260,79.3 L262,80.5 L264,82.2 L266,84.3 L268,86.6 L270,89.2 L272,92.0 L274,94.9 L276,97.7 L278,100.6 L280,103.4 L282,106.1 L284,108.6 L286,110.9 L288,113.0 L290,114.8 L292,116.5 L294,117.9 L296,119.1 L298,120.0 L300,120.9 L302,121.6 L304,122.2 L306,122.9 L308,123.6 L310,124.4 L312,125.3 L314,126.5 L316,127.7 L318,129.2 L320,130.8 L322,132.6 L324,134.5 L326,136.6 L328,138.9 L330,141.3 L332,143.9 L334,146.6 L336,149.3 L338,152.1 L340,154.8 L342,157.6 L344,160.3 L346,162.9 L348,165.4 L350,167.8 L352,170.1 L354,172.2 L356,174.2 L358,176.0 L360,177.8 L362,179.4 L364,181.0 L366,182.5 L368,183.9 L370,185.2 L372,186.5 L374,187.7 L376,188.8 L378,189.8 L380,190.8 L382,191.7 L384,192.5 L386,193.3 L388,194.0 L390,194.6 L392,195.2 L394,195.8 L396,196.2 L398,196.7 L400,197.1 L402,197.4 L404,197.8 L406,198.0 L408,198.3 L410,198.5 L412,198.8 L414,199.0 L416,199.2 L418,199.3 L420,199.5 L422,199.7 L424,199.8 L426,200.0 L428,200.2 L430,200.3 L432,200.5 L434,200.7 L436,200.9 L438,201.1 L440,201.3 L442,201.4 L444,201.6 L446,201.8 L448,201.9 L450,202.1 L452,202.2 L454,202.3 L456,202.5 L458,202.6 L460,202.7 L462,202.8 L464,202.9 L466,203.1 L468,203.2 L470,203.3 L472,203.4 L474,203.5 L476,203.6 L478,203.6 L480,203.7 L482,203.8 L484,203.9 L486,204.0 L488,204.1 L490,204.1 L492,204.2 L494,204.3 L496,204.4 L498,204.4 L500,204.5 L502,204.6 L504,204.6 L506,204.7 L508,204.8 L510,204.8 L512,204.9 L514,205.0 L516,205.0 L518,205.1 L520,205.2 L522,205.2 L524,205.3 L526,205.3 L528,205.4 L530,205.5 L532,205.5 L534,205.6 L536,205.6 L538,205.7 L540,205.7 L542,205.8 L544,205.9 L546,205.9 L548,205.9 L550,206.0 L552,206.0 L554,206.1 L556,206.1 L558,206.1 L560,206.2 L562,206.2 L564,206.2 L566,206.2 L568,206.2 L570,206.1 L572,206.0 L574,205.9 L576,205.8 L578,205.6 L580,205.4 L582,205.2 L584,205.0 L586,204.7 L588,204.5 L590,204.2 L592,204.0 L594,203.7 L596,203.4 L598,203.1 L600,202.8 L602,202.5 L604,202.3 L606,202.0 L608,201.7 L610,201.4 L612,201.2 L614,200.9 L616,200.6 L618,200.4 L620,200.1 L622,199.8 L624,199.6 L626,199.3 L628,199.1 L630,198.9 L632,198.8 L634,198.7 L636,198.6 L638,198.6 L640,198.7 L642,198.7 L644,198.9 L646,199.1 L648,199.3 L650,199.5 L652,199.8 L654,200.0 L656,200.4 L658,200.7 L660,201.0 L662,201.4 L664,201.7 L666,202.1 L668,202.4 L670,202.8 L672,203.1 L674,203.4 L676,203.7 L678,204.1 L680,204.4 L682,204.7 L684,205.0 L686,205.2 L688,205.5 L690,205.8 L692,206.0 L694,206.3 L696,206.5 L698,206.8 L700,207.0 L702,207.2 L704,207.4 L706,207.7 L708,207.9 L710,208.1 L712,208.2 L714,208.4 L716,208.6 L718,208.8 L720,209.0 L722,209.1 L724,209.3 L726,209.4 L728,209.6 L730,209.7 L732,209.9 L734,210.0 L736,210.1 L738,210.3 L740,210.4 L742,210.5 L744,210.6 L746,210.8 L748,210.9 L750,211.0 L752,211.1 L754,211.2 L756,211.3 L758,211.4 L760,211.5 L762,211.6 L764,211.7 L766,211.8 L768,211.9 L770,212.0 L772,212.1 L774,212.2 L776,212.3" stroke="#a06ad2" stroke-width="1.55"/>
<path d="M54,178.8 L56,178.9 L58,179.0 L60,179.0 L62,179.1 L64,179.2 L66,179.3 L68,179.3 L70,179.4 L72,179.5 L74,179.6 L76,179.7 L78,179.7 L80,179.8 L82,179.9 L84,180.0 L86,180.1 L88,180.1 L90,180.2 L92,180.3 L94,180.3 L96,180.4 L98,180.4 L100,180.4 L102,180.4 L104,180.4 L106,180.4 L108,180.3 L110,180.3 L112,180.2 L114,180.1 L116,180.0 L118,179.9 L120,179.7 L122,179.6 L124,179.4 L126,179.2 L128,179.0 L130,178.8 L132,178.6 L134,178.4 L136,178.1 L138,177.9 L140,177.6 L142,177.3 L144,176.9 L146,176.6 L148,176.1 L150,175.7 L152,175.1 L154,174.6 L156,173.9 L158,173.3 L160,172.6 L162,171.9 L164,171.2 L166,170.5 L168,169.8 L170,169.1 L172,168.3 L174,167.6 L176,167.0 L178,166.3 L180,165.6 L182,164.9 L184,164.1 L186,163.3 L188,162.4 L190,161.4 L192,160.3 L194,159.0 L196,157.6 L198,156.0 L200,154.3 L202,152.4 L204,150.4 L206,148.2 L208,145.8 L210,143.2 L212,140.4 L214,137.4 L216,134.3 L218,130.9 L220,127.3 L222,123.5 L224,119.5 L226,115.3 L228,110.9 L230,106.6 L232,102.2 L234,98.0 L236,94.0 L238,90.2 L240,86.7 L242,83.4 L244,80.4 L246,77.8 L248,75.5 L250,73.6 L252,72.2 L254,71.4 L256,71.0 L258,71.3 L260,72.0 L262,73.3 L264,75.0 L266,77.2 L268,79.6 L270,82.3 L272,85.2 L274,88.3 L276,91.4 L278,94.4 L280,97.5 L282,100.4 L284,103.2 L286,105.9 L288,108.4 L290,110.8 L292,112.9 L294,114.9 L296,116.7 L298,118.3 L300,119.6 L302,120.8 L304,121.8 L306,122.8 L308,123.7 L310,124.6 L312,125.6 L314,126.6 L316,127.8 L318,129.2 L320,130.6 L322,132.2 L324,134.0 L326,135.9 L328,138.0 L330,140.1 L332,142.5 L334,144.9 L336,147.4 L338,150.0 L340,152.7 L342,155.4 L344,158.1 L346,160.8 L348,163.4 L350,165.9 L352,168.2 L354,170.4 L356,172.4 L358,174.2 L360,175.9 L362,177.4 L364,178.9 L366,180.2 L368,181.5 L370,182.7 L372,183.9 L374,185.0 L376,186.0 L378,187.0 L380,187.9 L382,188.7 L384,189.5 L386,190.2 L388,190.9 L390,191.5 L392,192.1 L394,192.6 L396,193.1 L398,193.5 L400,193.9 L402,194.2 L404,194.5 L406,194.8 L408,195.1 L410,195.3 L412,195.5 L414,195.6 L416,195.8 L418,195.9 L420,196.0 L422,196.1 L424,196.2 L426,196.3 L428,196.3 L430,196.4 L432,196.5 L434,196.5 L436,196.6 L438,196.7 L440,196.7 L442,196.8 L444,196.9 L446,197.0 L448,197.1 L450,197.3 L452,197.4 L454,197.5 L456,197.7 L458,197.8 L460,197.9 L462,198.1 L464,198.2 L466,198.4 L468,198.5 L470,198.6 L472,198.8 L474,198.9 L476,199.0 L478,199.2 L480,199.3 L482,199.4 L484,199.6 L486,199.7 L488,199.8 L490,199.9 L492,200.0 L494,200.2 L496,200.3 L498,200.4 L500,200.5 L502,200.6 L504,200.7 L506,200.8 L508,200.9 L510,201.0 L512,201.1 L514,201.2 L516,201.3 L518,201.4 L520,201.4 L522,201.5 L524,201.6 L526,201.7 L528,201.8 L530,201.8 L532,201.9 L534,202.0 L536,202.0 L538,202.1 L540,202.2 L542,202.2 L544,202.3 L546,202.4 L548,202.4 L550,202.5 L552,202.5 L554,202.5 L556,202.5 L558,202.5 L560,202.5 L562,202.5 L564,202.5 L566,202.5 L568,202.4 L570,202.3 L572,202.2 L574,202.0 L576,201.8 L578,201.6 L580,201.4 L582,201.1 L584,200.9 L586,200.6 L588,200.3 L590,200.0 L592,199.7 L594,199.4 L596,199.1 L598,198.8 L600,198.6 L602,198.3 L604,198.1 L606,197.8 L608,197.6 L610,197.4 L612,197.2 L614,196.9 L616,196.7 L618,196.5 L620,196.3 L622,196.0 L624,195.8 L626,195.6 L628,195.4 L630,195.2 L632,195.1 L634,195.0 L636,195.0 L638,195.0 L640,195.0 L642,195.1 L644,195.2 L646,195.4 L648,195.5 L650,195.7 L652,195.9 L654,196.2 L656,196.4 L658,196.6 L660,196.9 L662,197.2 L664,197.4 L666,197.7 L668,198.0 L670,198.3 L672,198.6 L674,198.9 L676,199.3 L678,199.6 L680,199.9 L682,200.2 L684,200.6 L686,200.9 L688,201.2 L690,201.5 L692,201.8 L694,202.1 L696,202.4 L698,202.7 L700,203.0 L702,203.2 L704,203.5 L706,203.7 L708,203.9 L710,204.1 L712,204.3 L714,204.5 L716,204.7 L718,204.8 L720,205.0 L722,205.2 L724,205.3 L726,205.4 L728,205.6 L730,205.7 L732,205.8 L734,206.0 L736,206.1 L738,206.2 L740,206.3 L742,206.4 L744,206.5 L746,206.7 L748,206.8 L750,206.9 L752,207.0 L754,207.1 L756,207.2 L758,207.3 L760,207.4 L762,207.5 L764,207.6 L766,207.8 L768,207.9 L770,208.0 L772,208.1 L774,208.2 L776,208.3" stroke="#3a9050" stroke-width="1.55"/>
<path d="M54,173.6 L56,173.7 L58,173.8 L60,173.9 L62,174.0 L64,174.1 L66,174.2 L68,174.4 L70,174.5 L72,174.6 L74,174.7 L76,174.8 L78,174.9 L80,175.0 L82,175.1 L84,175.3 L86,175.4 L88,175.5 L90,175.6 L92,175.7 L94,175.8 L96,175.8 L98,175.9 L100,175.9 L102,176.0 L104,176.0 L106,176.0 L108,175.9 L110,175.9 L112,175.8 L114,175.7 L116,175.6 L118,175.5 L120,175.3 L122,175.2 L124,175.0 L126,174.8 L128,174.6 L130,174.4 L132,174.2 L134,174.0 L136,173.7 L138,173.5 L140,173.2 L142,172.9 L144,172.5 L146,172.1 L148,171.7 L150,171.3 L152,170.7 L154,170.2 L156,169.6 L158,169.0 L160,168.3 L162,167.7 L164,167.0 L166,166.3 L168,165.7 L170,165.0 L172,164.3 L174,163.6 L176,162.8 L178,162.0 L180,161.2 L182,160.3 L184,159.3 L186,158.3 L188,157.2 L190,156.0 L192,154.7 L194,153.3 L196,151.8 L198,150.2 L200,148.4 L202,146.6 L204,144.5 L206,142.4 L208,140.0 L210,137.5 L212,134.9 L214,132.0 L216,128.8 L218,125.4 L220,121.6 L222,117.7 L224,113.5 L226,109.2 L228,104.8 L230,100.3 L232,95.9 L234,91.6 L236,87.4 L238,83.4 L240,79.6 L242,76.0 L244,72.7 L246,69.8 L248,67.3 L250,65.3 L252,63.9 L254,62.9 L256,62.6 L258,62.8 L260,63.6 L262,65.0 L264,66.8 L266,69.0 L268,71.5 L270,74.2 L272,77.1 L274,80.2 L276,83.6 L278,87.0 L280,90.5 L282,94.0 L284,97.4 L286,100.6 L288,103.8 L290,106.7 L292,109.5 L294,112.1 L296,114.4 L298,116.5 L300,118.3 L302,119.8 L304,121.2 L306,122.3 L308,123.4 L310,124.3 L312,125.4 L314,126.4 L316,127.6 L318,128.8 L320,130.2 L322,131.6 L324,133.2 L326,134.9 L328,136.7 L330,138.7 L332,140.8 L334,143.0 L336,145.4 L338,147.8 L340,150.3 L342,153.0 L344,155.6 L346,158.3 L348,160.9 L350,163.5 L352,165.9 L354,168.2 L356,170.3 L358,172.1 L360,173.8 L362,175.4 L364,176.8 L366,178.1 L368,179.3 L370,180.4 L372,181.4 L374,182.4 L376,183.3 L378,184.2 L380,185.1 L382,185.9 L384,186.6 L386,187.3 L388,187.9 L390,188.5 L392,189.0 L394,189.5 L396,190.0 L398,190.4 L400,190.8 L402,191.1 L404,191.4 L406,191.6 L408,191.9 L410,192.1 L412,192.2 L414,192.4 L416,192.5 L418,192.6 L420,192.7 L422,192.8 L424,192.9 L426,192.9 L428,193.0 L430,193.0 L432,193.1 L434,193.1 L436,193.2 L438,193.3 L440,193.3 L442,193.4 L444,193.5 L446,193.7 L448,193.8 L450,193.9 L452,194.0 L454,194.2 L456,194.3 L458,194.5 L460,194.6 L462,194.8 L464,194.9 L466,195.1 L468,195.2 L470,195.3 L472,195.5 L474,195.6 L476,195.7 L478,195.9 L480,196.0 L482,196.1 L484,196.2 L486,196.4 L488,196.5 L490,196.6 L492,196.7 L494,196.8 L496,196.9 L498,197.0 L500,197.1 L502,197.2 L504,197.3 L506,197.4 L508,197.4 L510,197.5 L512,197.6 L514,197.7 L516,197.8 L518,197.8 L520,197.9 L522,198.0 L524,198.1 L526,198.1 L528,198.2 L530,198.3 L532,198.4 L534,198.5 L536,198.6 L538,198.7 L540,198.8 L542,198.9 L544,199.0 L546,199.0 L548,199.1 L550,199.2 L552,199.2 L554,199.3 L556,199.3 L558,199.3 L560,199.3 L562,199.3 L564,199.2 L566,199.1 L568,199.0 L570,198.9 L572,198.7 L574,198.5 L576,198.3 L578,198.0 L580,197.8 L582,197.5 L584,197.2 L586,196.9 L588,196.6 L590,196.3 L592,196.0 L594,195.7 L596,195.4 L598,195.1 L600,194.9 L602,194.6 L604,194.3 L606,194.1 L608,193.8 L610,193.6 L612,193.4 L614,193.1 L616,192.9 L618,192.6 L620,192.3 L622,192.0 L624,191.8 L626,191.5 L628,191.3 L630,191.0 L632,190.9 L634,190.8 L636,190.7 L638,190.7 L640,190.8 L642,191.0 L644,191.2 L646,191.4 L648,191.7 L650,192.0 L652,192.3 L654,192.7 L656,193.0 L658,193.4 L660,193.8 L662,194.2 L664,194.6 L666,195.0 L668,195.4 L670,195.7 L672,196.1 L674,196.5 L676,196.8 L678,197.1 L680,197.4 L682,197.7 L684,198.0 L686,198.3 L688,198.6 L690,198.8 L692,199.1 L694,199.3 L696,199.6 L698,199.8 L700,200.0 L702,200.2 L704,200.4 L706,200.6 L708,200.8 L710,201.0 L712,201.2 L714,201.4 L716,201.6 L718,201.7 L720,201.9 L722,202.0 L724,202.2 L726,202.4 L728,202.5 L730,202.6 L732,202.8 L734,202.9 L736,203.0 L738,203.2 L740,203.3 L742,203.4 L744,203.5 L746,203.7 L748,203.8 L750,203.9 L752,204.0 L754,204.1 L756,204.2 L758,204.3 L760,204.4 L762,204.5 L764,204.6 L766,204.7 L768,204.8 L770,204.9 L772,205.0 L774,205.1 L776,205.2" stroke="#303070" stroke-width="1.55"/>
<path d="M54,170.8 L56,170.9 L58,171.0 L60,171.2 L62,171.3 L64,171.4 L66,171.5 L68,171.6 L70,171.7 L72,171.8 L74,171.9 L76,172.0 L78,172.2 L80,172.3 L82,172.4 L84,172.5 L86,172.6 L88,172.7 L90,172.8 L92,172.9 L94,173.0 L96,173.1 L98,173.1 L100,173.2 L102,173.2 L104,173.2 L106,173.2 L108,173.2 L110,173.1 L112,173.1 L114,173.0 L116,172.9 L118,172.7 L120,172.6 L122,172.4 L124,172.3 L126,172.1 L128,171.9 L130,171.7 L132,171.4 L134,171.2 L136,170.9 L138,170.7 L140,170.4 L142,170.1 L144,169.7 L146,169.3 L148,168.9 L150,168.5 L152,168.0 L154,167.5 L156,166.9 L158,166.3 L160,165.7 L162,165.1 L164,164.5 L166,163.8 L168,163.2 L170,162.5 L172,161.8 L174,161.1 L176,160.4 L178,159.6 L180,158.7 L182,157.8 L184,156.8 L186,155.7 L188,154.5 L190,153.2 L192,151.9 L194,150.4 L196,148.8 L198,147.1 L200,145.2 L202,143.2 L204,141.0 L206,138.8 L208,136.3 L210,133.7 L212,130.9 L214,127.8 L216,124.5 L218,121.0 L220,117.1 L222,113.0 L224,108.8 L226,104.3 L228,99.8 L230,95.1 L232,90.5 L234,85.9 L236,81.3 L238,76.9 L240,72.6 L242,68.6 L244,65.0 L246,61.8 L248,59.1 L250,57.0 L252,55.4 L254,54.4 L256,54.1 L258,54.5 L260,55.5 L262,57.1 L264,59.2 L266,61.8 L268,64.6 L270,67.8 L272,71.2 L274,74.7 L276,78.4 L278,82.2 L280,85.9 L282,89.6 L284,93.2 L286,96.7 L288,100.0 L290,103.1 L292,106.1 L294,108.8 L296,111.3 L298,113.5 L300,115.5 L302,117.3 L304,118.8 L306,120.2 L308,121.5 L310,122.7 L312,123.9 L314,125.1 L316,126.4 L318,127.8 L320,129.3 L322,130.8 L324,132.5 L326,134.2 L328,136.1 L330,138.1 L332,140.3 L334,142.5 L336,144.9 L338,147.3 L340,149.8 L342,152.4 L344,154.9 L346,157.5 L348,159.9 L350,162.3 L352,164.6 L354,166.7 L356,168.6 L358,170.4 L360,172.0 L362,173.4 L364,174.7 L366,175.9 L368,177.1 L370,178.1 L372,179.1 L374,180.1 L376,181.0 L378,181.8 L380,182.6 L382,183.3 L384,184.0 L386,184.7 L388,185.3 L390,185.9 L392,186.4 L394,186.9 L396,187.3 L398,187.7 L400,188.1 L402,188.4 L404,188.8 L406,189.1 L408,189.3 L410,189.5 L412,189.8 L414,189.9 L416,190.1 L418,190.2 L420,190.4 L422,190.5 L424,190.6 L426,190.7 L428,190.8 L430,190.8 L432,190.9 L434,191.0 L436,191.0 L438,191.1 L440,191.2 L442,191.3 L444,191.4 L446,191.5 L448,191.6 L450,191.7 L452,191.8 L454,192.0 L456,192.1 L458,192.2 L460,192.4 L462,192.5 L464,192.6 L466,192.8 L468,192.9 L470,193.0 L472,193.2 L474,193.3 L476,193.4 L478,193.5 L480,193.7 L482,193.8 L484,193.9 L486,194.0 L488,194.1 L490,194.2 L492,194.3 L494,194.5 L496,194.6 L498,194.7 L500,194.7 L502,194.8 L504,194.9 L506,195.0 L508,195.1 L510,195.2 L512,195.3 L514,195.3 L516,195.4 L518,195.5 L520,195.6 L522,195.7 L524,195.7 L526,195.8 L528,195.9 L530,196.0 L532,196.1 L534,196.2 L536,196.2 L538,196.3 L540,196.4 L542,196.5 L544,196.6 L546,196.7 L548,196.8 L550,196.8 L552,196.9 L554,196.9 L556,196.9 L558,197.0 L560,196.9 L562,196.9 L564,196.9 L566,196.8 L568,196.7 L570,196.6 L572,196.4 L574,196.2 L576,196.0 L578,195.8 L580,195.6 L582,195.3 L584,195.0 L586,194.7 L588,194.4 L590,194.1 L592,193.8 L594,193.5 L596,193.2 L598,192.9 L600,192.6 L602,192.3 L604,192.0 L606,191.7 L608,191.5 L610,191.2 L612,190.9 L614,190.6 L616,190.3 L618,190.1 L620,189.8 L622,189.5 L624,189.2 L626,189.0 L628,188.8 L630,188.6 L632,188.4 L634,188.3 L636,188.3 L638,188.3 L640,188.4 L642,188.6 L644,188.8 L646,189.0 L648,189.3 L650,189.6 L652,189.9 L654,190.3 L656,190.6 L658,191.0 L660,191.4 L662,191.8 L664,192.2 L666,192.6 L668,193.0 L670,193.4 L672,193.8 L674,194.2 L676,194.5 L678,194.9 L680,195.2 L682,195.5 L684,195.9 L686,196.2 L688,196.5 L690,196.8 L692,197.0 L694,197.3 L696,197.6 L698,197.8 L700,198.0 L702,198.3 L704,198.5 L706,198.7 L708,198.9 L710,199.1 L712,199.2 L714,199.4 L716,199.6 L718,199.7 L720,199.9 L722,200.0 L724,200.2 L726,200.3 L728,200.4 L730,200.6 L732,200.7 L734,200.8 L736,200.9 L738,201.1 L740,201.2 L742,201.3 L744,201.4 L746,201.5 L748,201.6 L750,201.8 L752,201.9 L754,202.0 L756,202.1 L758,202.2 L760,202.3 L762,202.4 L764,202.5 L766,202.7 L768,202.8 L770,202.9 L772,203.0 L774,203.1 L776,203.2" stroke="#96cce6" stroke-width="1.55"/>
<path d="M54,167.6 L56,167.7 L58,167.8 L60,167.9 L62,168.0 L64,168.1 L66,168.2 L68,168.3 L70,168.5 L72,168.6 L74,168.7 L76,168.8 L78,168.9 L80,169.0 L82,169.1 L84,169.3 L86,169.4 L88,169.5 L90,169.6 L92,169.7 L94,169.8 L96,169.8 L98,169.9 L100,169.9 L102,170.0 L104,170.0 L106,170.0 L108,170.0 L110,169.9 L112,169.8 L114,169.7 L116,169.6 L118,169.5 L120,169.4 L122,169.2 L124,169.0 L126,168.8 L128,168.6 L130,168.4 L132,168.2 L134,167.9 L136,167.7 L138,167.4 L140,167.1 L142,166.8 L144,166.4 L146,166.1 L148,165.7 L150,165.2 L152,164.8 L154,164.3 L156,163.7 L158,163.2 L160,162.6 L162,162.1 L164,161.5 L166,160.9 L168,160.3 L170,159.6 L172,159.0 L174,158.3 L176,157.5 L178,156.7 L180,155.9 L182,154.9 L184,153.9 L186,152.8 L188,151.6 L190,150.3 L192,148.8 L194,147.3 L196,145.7 L198,143.9 L200,142.0 L202,140.0 L204,137.8 L206,135.5 L208,133.0 L210,130.4 L212,127.6 L214,124.5 L216,121.3 L218,117.7 L220,113.9 L222,109.9 L224,105.7 L226,101.3 L228,96.7 L230,92.1 L232,87.5 L234,82.8 L236,78.1 L238,73.5 L240,69.2 L242,65.1 L244,61.4 L246,58.1 L248,55.4 L250,53.2 L252,51.6 L254,50.7 L256,50.4 L258,50.8 L260,51.8 L262,53.5 L264,55.7 L266,58.4 L268,61.4 L270,64.7 L272,68.2 L274,71.9 L276,75.7 L278,79.6 L280,83.4 L282,87.1 L284,90.7 L286,94.2 L288,97.5 L290,100.6 L292,103.6 L294,106.4 L296,108.9 L298,111.2 L300,113.3 L302,115.1 L304,116.8 L306,118.3 L308,119.7 L310,121.1 L312,122.4 L314,123.8 L316,125.3 L318,126.7 L320,128.3 L322,129.9 L324,131.7 L326,133.5 L328,135.4 L330,137.5 L332,139.7 L334,142.0 L336,144.4 L338,146.8 L340,149.2 L342,151.7 L344,154.1 L346,156.5 L348,158.8 L350,161.0 L352,163.1 L354,165.0 L356,166.7 L358,168.3 L360,169.8 L362,171.1 L364,172.3 L366,173.4 L368,174.5 L370,175.5 L372,176.4 L374,177.3 L376,178.1 L378,178.9 L380,179.7 L382,180.4 L384,181.0 L386,181.6 L388,182.2 L390,182.7 L392,183.2 L394,183.7 L396,184.2 L398,184.6 L400,185.0 L402,185.4 L404,185.7 L406,186.0 L408,186.3 L410,186.6 L412,186.8 L414,187.1 L416,187.3 L418,187.5 L420,187.6 L422,187.8 L424,187.9 L426,188.0 L428,188.1 L430,188.2 L432,188.3 L434,188.4 L436,188.5 L438,188.6 L440,188.7 L442,188.8 L444,188.9 L446,189.0 L448,189.1 L450,189.2 L452,189.3 L454,189.4 L456,189.5 L458,189.6 L460,189.7 L462,189.8 L464,189.9 L466,190.1 L468,190.2 L470,190.3 L472,190.4 L474,190.5 L476,190.7 L478,190.8 L480,190.9 L482,191.0 L484,191.1 L486,191.2 L488,191.4 L490,191.5 L492,191.6 L494,191.7 L496,191.8 L498,191.9 L500,192.0 L502,192.1 L504,192.2 L506,192.3 L508,192.3 L510,192.4 L512,192.5 L514,192.6 L516,192.7 L518,192.8 L520,192.8 L522,192.9 L524,193.0 L526,193.1 L528,193.2 L530,193.2 L532,193.3 L534,193.4 L536,193.5 L538,193.6 L540,193.7 L542,193.8 L544,193.8 L546,193.9 L548,194.0 L550,194.1 L552,194.1 L554,194.2 L556,194.2 L558,194.2 L560,194.2 L562,194.2 L564,194.1 L566,194.1 L568,194.0 L570,193.9 L572,193.7 L574,193.6 L576,193.4 L578,193.2 L580,192.9 L582,192.7 L584,192.4 L586,192.2 L588,191.9 L590,191.6 L592,191.3 L594,190.9 L596,190.6 L598,190.3 L600,190.0 L602,189.6 L604,189.3 L606,189.0 L608,188.6 L610,188.3 L612,188.0 L614,187.7 L616,187.4 L618,187.1 L620,186.8 L622,186.5 L624,186.3 L626,186.0 L628,185.8 L630,185.6 L632,185.5 L634,185.5 L636,185.4 L638,185.5 L640,185.6 L642,185.8 L644,186.0 L646,186.2 L648,186.5 L650,186.8 L652,187.1 L654,187.5 L656,187.8 L658,188.2 L660,188.6 L662,189.0 L664,189.4 L666,189.8 L668,190.3 L670,190.7 L672,191.1 L674,191.5 L676,191.9 L678,192.2 L680,192.6 L682,193.0 L684,193.3 L686,193.7 L688,194.0 L690,194.3 L692,194.6 L694,194.9 L696,195.2 L698,195.5 L700,195.7 L702,196.0 L704,196.2 L706,196.4 L708,196.6 L710,196.8 L712,196.9 L714,197.1 L716,197.3 L718,197.4 L720,197.5 L722,197.7 L724,197.8 L726,197.9 L728,198.0 L730,198.1 L732,198.3 L734,198.4 L736,198.5 L738,198.6 L740,198.7 L742,198.8 L744,198.9 L746,199.0 L748,199.1 L750,199.3 L752,199.4 L754,199.5 L756,199.6 L758,199.7 L760,199.9 L762,200.0 L764,200.1 L766,200.2 L768,200.4 L770,200.5 L772,200.6 L774,200.7 L776,200.9" stroke="#70344a" stroke-width="1.55"/>
<path d="M54,164.8 L56,164.9 L58,165.0 L60,165.1 L62,165.2 L64,165.4 L66,165.5 L68,165.6 L70,165.7 L72,165.8 L74,165.9 L76,166.0 L78,166.2 L80,166.3 L82,166.4 L84,166.5 L86,166.6 L88,166.7 L90,166.8 L92,166.9 L94,167.0 L96,167.1 L98,167.1 L100,167.2 L102,167.2 L104,167.2 L106,167.2 L108,167.2 L110,167.2 L112,167.1 L114,167.0 L116,166.9 L118,166.8 L120,166.6 L122,166.5 L124,166.3 L126,166.1 L128,165.9 L130,165.7 L132,165.4 L134,165.2 L136,164.9 L138,164.6 L140,164.3 L142,164.0 L144,163.6 L146,163.3 L148,162.9 L150,162.4 L152,162.0 L154,161.5 L156,161.0 L158,160.5 L160,160.0 L162,159.5 L164,158.9 L166,158.4 L168,157.8 L170,157.2 L172,156.6 L174,155.9 L176,155.1 L178,154.3 L180,153.5 L182,152.5 L184,151.5 L186,150.4 L188,149.1 L190,147.8 L192,146.3 L194,144.8 L196,143.1 L198,141.3 L200,139.4 L202,137.4 L204,135.2 L206,132.9 L208,130.5 L210,127.8 L212,125.0 L214,122.0 L216,118.8 L218,115.3 L220,111.6 L222,107.7 L224,103.5 L226,99.1 L228,94.7 L230,90.1 L232,85.4 L234,80.7 L236,76.1 L238,71.4 L240,67.0 L242,62.9 L244,59.2 L246,55.9 L248,53.2 L250,51.0 L252,49.4 L254,48.5 L256,48.2 L258,48.7 L260,49.7 L262,51.4 L264,53.7 L266,56.4 L268,59.5 L270,62.8 L272,66.4 L274,70.2 L276,74.0 L278,77.9 L280,81.7 L282,85.4 L284,89.0 L286,92.4 L288,95.7 L290,98.9 L292,101.8 L294,104.6 L296,107.1 L298,109.4 L300,111.5 L302,113.5 L304,115.2 L306,116.8 L308,118.3 L310,119.8 L312,121.3 L314,122.7 L316,124.3 L318,125.9 L320,127.5 L322,129.2 L324,131.0 L326,132.9 L328,134.9 L330,137.0 L332,139.2 L334,141.5 L336,143.9 L338,146.3 L340,148.7 L342,151.1 L344,153.4 L346,155.7 L348,157.9 L350,159.9 L352,161.8 L354,163.5 L356,165.1 L358,166.6 L360,167.9 L362,169.1 L364,170.3 L366,171.3 L368,172.3 L370,173.2 L372,174.1 L374,175.0 L376,175.7 L378,176.5 L380,177.2 L382,177.8 L384,178.4 L386,179.0 L388,179.6 L390,180.1 L392,180.6 L394,181.1 L396,181.5 L398,181.9 L400,182.3 L402,182.7 L404,183.1 L406,183.4 L408,183.8 L410,184.1 L412,184.4 L414,184.6 L416,184.9 L418,185.1 L420,185.3 L422,185.5 L424,185.6 L426,185.8 L428,185.9 L430,186.0 L432,186.1 L434,186.2 L436,186.3 L438,186.4 L440,186.5 L442,186.6 L444,186.7 L446,186.8 L448,186.9 L450,187.0 L452,187.1 L454,187.2 L456,187.3 L458,187.4 L460,187.5 L462,187.6 L464,187.7 L466,187.8 L468,187.9 L470,188.0 L472,188.1 L474,188.2 L476,188.3 L478,188.4 L480,188.6 L482,188.7 L484,188.8 L486,188.9 L488,189.0 L490,189.1 L492,189.2 L494,189.3 L496,189.4 L498,189.5 L500,189.6 L502,189.7 L504,189.8 L506,189.9 L508,190.0 L510,190.1 L512,190.2 L514,190.3 L516,190.3 L518,190.4 L520,190.5 L522,190.6 L524,190.7 L526,190.8 L528,190.8 L530,190.9 L532,191.0 L534,191.1 L536,191.2 L538,191.3 L540,191.3 L542,191.4 L544,191.5 L546,191.6 L548,191.6 L550,191.7 L552,191.8 L554,191.8 L556,191.8 L558,191.9 L560,191.9 L562,191.8 L564,191.8 L566,191.7 L568,191.7 L570,191.6 L572,191.4 L574,191.3 L576,191.1 L578,190.9 L580,190.7 L582,190.5 L584,190.2 L586,190.0 L588,189.7 L590,189.4 L592,189.1 L594,188.7 L596,188.4 L598,188.1 L600,187.7 L602,187.4 L604,187.0 L606,186.6 L608,186.3 L610,185.9 L612,185.5 L614,185.2 L616,184.9 L618,184.6 L620,184.3 L622,184.0 L624,183.7 L626,183.5 L628,183.3 L630,183.2 L632,183.1 L634,183.0 L636,183.0 L638,183.1 L640,183.2 L642,183.4 L644,183.6 L646,183.8 L648,184.1 L650,184.4 L652,184.7 L654,185.1 L656,185.5 L658,185.8 L660,186.2 L662,186.6 L664,187.1 L666,187.5 L668,187.9 L670,188.3 L672,188.8 L674,189.2 L676,189.6 L678,190.0 L680,190.4 L682,190.8 L684,191.2 L686,191.5 L688,191.9 L690,192.3 L692,192.6 L694,192.9 L696,193.2 L698,193.5 L700,193.8 L702,194.0 L704,194.2 L706,194.5 L708,194.6 L710,194.8 L712,195.0 L714,195.1 L716,195.3 L718,195.4 L720,195.6 L722,195.7 L724,195.8 L726,195.9 L728,196.0 L730,196.1 L732,196.2 L734,196.3 L736,196.4 L738,196.5 L740,196.6 L742,196.7 L744,196.8 L746,196.9 L748,197.0 L750,197.1 L752,197.3 L754,197.4 L756,197.5 L758,197.6 L760,197.8 L762,197.9 L764,198.0 L766,198.2 L768,198.3 L770,198.5 L772,198.6 L774,198.7 L776,198.9" stroke="#f0b8a0" stroke-width="1.55"/>
<path d="M54,162.9 L56,163.0 L58,163.1 L60,163.3 L62,163.4 L64,163.5 L66,163.6 L68,163.7 L70,163.8 L72,163.9 L74,164.1 L76,164.2 L78,164.3 L80,164.4 L82,164.5 L84,164.6 L86,164.8 L88,164.9 L90,165.0 L92,165.1 L94,165.1 L96,165.2 L98,165.3 L100,165.3 L102,165.4 L104,165.4 L106,165.4 L108,165.3 L110,165.3 L112,165.2 L114,165.1 L116,165.0 L118,164.9 L120,164.8 L122,164.6 L124,164.4 L126,164.2 L128,164.0 L130,163.8 L132,163.5 L134,163.3 L136,163.0 L138,162.7 L140,162.4 L142,162.1 L144,161.7 L146,161.4 L148,161.0 L150,160.6 L152,160.1 L154,159.7 L156,159.2 L158,158.7 L160,158.2 L162,157.7 L164,157.2 L166,156.7 L168,156.1 L170,155.5 L172,154.9 L174,154.2 L176,153.5 L178,152.7 L180,151.8 L182,150.9 L184,149.8 L186,148.7 L188,147.4 L190,146.1 L192,144.6 L194,143.0 L196,141.3 L198,139.5 L200,137.6 L202,135.6 L204,133.4 L206,131.1 L208,128.7 L210,126.0 L212,123.3 L214,120.3 L216,117.0 L218,113.6 L220,109.9 L222,106.0 L224,101.9 L226,97.6 L228,93.1 L230,88.6 L232,83.9 L234,79.2 L236,74.5 L238,69.8 L240,65.4 L242,61.2 L244,57.5 L246,54.2 L248,51.4 L250,49.3 L252,47.7 L254,46.8 L256,46.5 L258,47.0 L260,48.1 L262,49.8 L264,52.1 L266,54.8 L268,57.9 L270,61.4 L272,65.0 L274,68.8 L276,72.7 L278,76.6 L280,80.4 L282,84.2 L284,87.7 L286,91.2 L288,94.4 L290,97.6 L292,100.5 L294,103.3 L296,105.8 L298,108.2 L300,110.3 L302,112.3 L304,114.1 L306,115.7 L308,117.3 L310,118.9 L312,120.4 L314,122.0 L316,123.6 L318,125.3 L320,126.9 L322,128.7 L324,130.5 L326,132.5 L328,134.5 L330,136.6 L332,138.9 L334,141.2 L336,143.6 L338,146.0 L340,148.4 L342,150.7 L344,153.0 L346,155.1 L348,157.2 L350,159.1 L352,160.9 L354,162.6 L356,164.0 L358,165.4 L360,166.6 L362,167.8 L364,168.9 L366,169.9 L368,170.8 L370,171.7 L372,172.6 L374,173.4 L376,174.1 L378,174.8 L380,175.5 L382,176.1 L384,176.7 L386,177.3 L388,177.8 L390,178.3 L392,178.8 L394,179.3 L396,179.7 L398,180.1 L400,180.5 L402,180.9 L404,181.3 L406,181.7 L408,182.1 L410,182.4 L412,182.7 L414,183.0 L416,183.3 L418,183.5 L420,183.7 L422,183.9 L424,184.1 L426,184.3 L428,184.4 L430,184.5 L432,184.7 L434,184.8 L436,184.9 L438,185.0 L440,185.1 L442,185.2 L444,185.3 L446,185.3 L448,185.4 L450,185.5 L452,185.6 L454,185.7 L456,185.8 L458,185.8 L460,185.9 L462,186.0 L464,186.1 L466,186.2 L468,186.3 L470,186.4 L472,186.5 L474,186.6 L476,186.7 L478,186.9 L480,187.0 L482,187.1 L484,187.2 L486,187.3 L488,187.4 L490,187.5 L492,187.6 L494,187.7 L496,187.8 L498,188.0 L500,188.1 L502,188.2 L504,188.2 L506,188.3 L508,188.4 L510,188.5 L512,188.6 L514,188.7 L516,188.8 L518,188.9 L520,188.9 L522,189.0 L524,189.1 L526,189.2 L528,189.3 L530,189.3 L532,189.4 L534,189.5 L536,189.6 L538,189.7 L540,189.8 L542,189.8 L544,189.9 L546,190.0 L548,190.1 L550,190.1 L552,190.2 L554,190.2 L556,190.2 L558,190.3 L560,190.3 L562,190.3 L564,190.2 L566,190.2 L568,190.1 L570,190.0 L572,189.9 L574,189.8 L576,189.6 L578,189.4 L580,189.2 L582,189.0 L584,188.7 L586,188.5 L588,188.2 L590,187.9 L592,187.6 L594,187.2 L596,186.9 L598,186.6 L600,186.2 L602,185.8 L604,185.4 L606,185.0 L608,184.6 L610,184.3 L612,183.9 L614,183.5 L616,183.2 L618,182.8 L620,182.5 L622,182.3 L624,182.0 L626,181.8 L628,181.6 L630,181.5 L632,181.4 L634,181.4 L636,181.4 L638,181.5 L640,181.6 L642,181.8 L644,182.0 L646,182.2 L648,182.5 L650,182.8 L652,183.1 L654,183.5 L656,183.8 L658,184.2 L660,184.6 L662,185.0 L664,185.5 L666,185.9 L668,186.3 L670,186.8 L672,187.2 L674,187.6 L676,188.0 L678,188.5 L680,188.9 L682,189.3 L684,189.7 L686,190.1 L688,190.5 L690,190.8 L692,191.2 L694,191.5 L696,191.9 L698,192.2 L700,192.4 L702,192.7 L704,192.9 L706,193.1 L708,193.3 L710,193.5 L712,193.7 L714,193.8 L716,194.0 L718,194.1 L720,194.2 L722,194.3 L724,194.4 L726,194.5 L728,194.6 L730,194.7 L732,194.8 L734,194.9 L736,194.9 L738,195.0 L740,195.1 L742,195.2 L744,195.3 L746,195.5 L748,195.6 L750,195.7 L752,195.8 L754,195.9 L756,196.1 L758,196.2 L760,196.4 L762,196.5 L764,196.6 L766,196.8 L768,196.9 L770,197.1 L772,197.2 L774,197.4 L776,197.5" stroke="#e89a64" stroke-width="1.55"/>
<path d="M54,160.9 L56,161.0 L58,161.1 L60,161.2 L62,161.3 L64,161.5 L66,161.6 L68,161.7 L70,161.8 L72,161.9 L74,162.0 L76,162.2 L78,162.3 L80,162.4 L82,162.5 L84,162.6 L86,162.7 L88,162.8 L90,162.9 L92,163.0 L94,163.1 L96,163.2 L98,163.3 L100,163.3 L102,163.3 L104,163.4 L106,163.3 L108,163.3 L110,163.3 L112,163.2 L114,163.1 L116,163.0 L118,162.9 L120,162.7 L122,162.6 L124,162.4 L126,162.2 L128,162.0 L130,161.8 L132,161.5 L134,161.2 L136,161.0 L138,160.7 L140,160.4 L142,160.0 L144,159.7 L146,159.3 L148,158.9 L150,158.5 L152,158.1 L154,157.7 L156,157.2 L158,156.8 L160,156.3 L162,155.8 L164,155.4 L166,154.8 L168,154.3 L170,153.7 L172,153.1 L174,152.5 L176,151.7 L178,151.0 L180,150.1 L182,149.1 L184,148.0 L186,146.9 L188,145.6 L190,144.2 L192,142.7 L194,141.1 L196,139.4 L198,137.5 L200,135.6 L202,133.5 L204,131.3 L206,129.0 L208,126.6 L210,124.0 L212,121.1 L214,118.2 L216,114.9 L218,111.5 L220,107.9 L222,104.0 L224,99.9 L226,95.6 L228,91.1 L230,86.6 L232,81.9 L234,77.1 L236,72.4 L238,67.6 L240,63.1 L242,58.8 L244,55.0 L246,51.7 L248,48.9 L250,46.7 L252,45.1 L254,44.2 L256,44.0 L258,44.4 L260,45.6 L262,47.3 L264,49.7 L266,52.5 L268,55.7 L270,59.3 L272,63.1 L274,66.9 L276,70.9 L278,74.9 L280,78.7 L282,82.5 L284,86.1 L286,89.5 L288,92.8 L290,96.0 L292,98.9 L294,101.7 L296,104.3 L298,106.7 L300,108.9 L302,110.9 L304,112.8 L306,114.5 L308,116.2 L310,117.9 L312,119.5 L314,121.2 L316,122.9 L318,124.6 L320,126.3 L322,128.1 L324,130.0 L326,132.0 L328,134.1 L330,136.2 L332,138.5 L334,140.9 L336,143.3 L338,145.7 L340,148.0 L342,150.3 L344,152.5 L346,154.5 L348,156.5 L350,158.3 L352,160.0 L354,161.5 L356,162.9 L358,164.1 L360,165.3 L362,166.3 L364,167.4 L366,168.3 L368,169.2 L370,170.1 L372,170.9 L374,171.6 L376,172.4 L378,173.0 L380,173.7 L382,174.3 L384,174.8 L386,175.4 L388,175.9 L390,176.4 L392,176.8 L394,177.3 L396,177.7 L398,178.2 L400,178.6 L402,179.0 L404,179.4 L406,179.8 L408,180.2 L410,180.6 L412,180.9 L414,181.2 L416,181.5 L418,181.8 L420,182.0 L422,182.2 L424,182.4 L426,182.6 L428,182.8 L430,182.9 L432,183.1 L434,183.2 L436,183.3 L438,183.4 L440,183.5 L442,183.6 L444,183.7 L446,183.8 L448,183.8 L450,183.9 L452,184.0 L454,184.1 L456,184.1 L458,184.2 L460,184.3 L462,184.4 L464,184.4 L466,184.5 L468,184.6 L470,184.7 L472,184.8 L474,184.9 L476,185.0 L478,185.1 L480,185.2 L482,185.3 L484,185.5 L486,185.6 L488,185.7 L490,185.8 L492,185.9 L494,186.0 L496,186.1 L498,186.2 L500,186.3 L502,186.4 L504,186.5 L506,186.6 L508,186.7 L510,186.8 L512,186.9 L514,187.0 L516,187.1 L518,187.1 L520,187.2 L522,187.3 L524,187.4 L526,187.5 L528,187.5 L530,187.6 L532,187.7 L534,187.8 L536,187.9 L538,188.0 L540,188.0 L542,188.1 L544,188.2 L546,188.3 L548,188.3 L550,188.4 L552,188.4 L554,188.5 L556,188.5 L558,188.5 L560,188.5 L562,188.5 L564,188.5 L566,188.5 L568,188.4 L570,188.3 L572,188.2 L574,188.1 L576,187.9 L578,187.8 L580,187.6 L582,187.4 L584,187.1 L586,186.9 L588,186.6 L590,186.3 L592,186.0 L594,185.6 L596,185.3 L598,184.9 L600,184.5 L602,184.1 L604,183.7 L606,183.3 L608,182.9 L610,182.5 L612,182.1 L614,181.7 L616,181.3 L618,181.0 L620,180.7 L622,180.4 L624,180.1 L626,179.9 L628,179.8 L630,179.7 L632,179.6 L634,179.6 L636,179.6 L638,179.7 L640,179.8 L642,180.0 L644,180.2 L646,180.5 L648,180.7 L650,181.1 L652,181.4 L654,181.7 L656,182.1 L658,182.5 L660,182.9 L662,183.3 L664,183.7 L666,184.2 L668,184.6 L670,185.0 L672,185.5 L674,185.9 L676,186.4 L678,186.8 L680,187.3 L682,187.7 L684,188.1 L686,188.5 L688,188.9 L690,189.3 L692,189.7 L694,190.1 L696,190.4 L698,190.7 L700,191.0 L702,191.2 L704,191.5 L706,191.7 L708,191.9 L710,192.1 L712,192.2 L714,192.4 L716,192.5 L718,192.6 L720,192.7 L722,192.8 L724,192.9 L726,193.0 L728,193.1 L730,193.2 L732,193.2 L734,193.3 L736,193.4 L738,193.5 L740,193.6 L742,193.7 L744,193.8 L746,193.9 L748,194.0 L750,194.1 L752,194.3 L754,194.4 L756,194.5 L758,194.7 L760,194.8 L762,195.0 L764,195.1 L766,195.3 L768,195.4 L770,195.6 L772,195.7 L774,195.9 L776,196.1" stroke="#d6d08c" stroke-width="1.55"/>
<path d="M54,158.9 L56,159.0 L58,159.2 L60,159.3 L62,159.4 L64,159.5 L66,159.6 L68,159.7 L70,159.9 L72,160.0 L74,160.1 L76,160.2 L78,160.3 L80,160.4 L82,160.6 L84,160.7 L86,160.8 L88,160.9 L90,161.0 L92,161.1 L94,161.2 L96,161.3 L98,161.3 L100,161.4 L102,161.4 L104,161.4 L106,161.4 L108,161.4 L110,161.3 L112,161.3 L114,161.2 L116,161.1 L118,160.9 L120,160.8 L122,160.6 L124,160.5 L126,160.3 L128,160.0 L130,159.8 L132,159.6 L134,159.3 L136,159.0 L138,158.7 L140,158.4 L142,158.0 L144,157.7 L146,157.3 L148,157.0 L150,156.6 L152,156.2 L154,155.8 L156,155.3 L158,154.9 L160,154.5 L162,154.0 L164,153.6 L166,153.1 L168,152.6 L170,152.0 L172,151.4 L174,150.8 L176,150.1 L178,149.3 L180,148.4 L182,147.4 L184,146.3 L186,145.2 L188,143.9 L190,142.4 L192,140.9 L194,139.3 L196,137.5 L198,135.7 L200,133.8 L202,131.7 L204,129.5 L206,127.2 L208,124.8 L210,122.1 L212,119.4 L214,116.4 L216,113.2 L218,109.8 L220,106.2 L222,102.4 L224,98.3 L226,94.1 L228,89.7 L230,85.2 L232,80.5 L234,75.7 L236,70.9 L238,66.1 L240,61.6 L242,57.3 L244,53.5 L246,50.1 L248,47.4 L250,45.2 L252,43.6 L254,42.7 L256,42.5 L258,42.9 L260,44.1 L262,45.9 L264,48.3 L266,51.1 L268,54.4 L270,58.0 L272,61.8 L274,65.7 L276,69.7 L278,73.7 L280,77.5 L282,81.3 L284,84.9 L286,88.3 L288,91.6 L290,94.7 L292,97.7 L294,100.5 L296,103.1 L298,105.4 L300,107.7 L302,109.7 L304,111.6 L306,113.5 L308,115.2 L310,117.0 L312,118.7 L314,120.4 L316,122.2 L318,124.0 L320,125.8 L322,127.6 L324,129.6 L326,131.6 L328,133.7 L330,135.9 L332,138.2 L334,140.6 L336,143.0 L338,145.3 L340,147.6 L342,149.9 L344,152.0 L346,154.0 L348,155.8 L350,157.5 L352,159.1 L354,160.5 L356,161.7 L358,162.9 L360,163.9 L362,165.0 L364,165.9 L366,166.8 L368,167.7 L370,168.5 L372,169.3 L374,170.0 L376,170.7 L378,171.3 L380,171.9 L382,172.5 L384,173.0 L386,173.5 L388,174.0 L390,174.5 L392,175.0 L394,175.4 L396,175.9 L398,176.3 L400,176.7 L402,177.2 L404,177.6 L406,178.0 L408,178.4 L410,178.8 L412,179.1 L414,179.5 L416,179.8 L418,180.1 L420,180.4 L422,180.6 L424,180.8 L426,181.0 L428,181.2 L430,181.4 L432,181.5 L434,181.7 L436,181.8 L438,181.9 L440,182.0 L442,182.1 L444,182.2 L446,182.2 L448,182.3 L450,182.4 L452,182.4 L454,182.5 L456,182.6 L458,182.6 L460,182.7 L462,182.8 L464,182.8 L466,182.9 L468,183.0 L470,183.1 L472,183.2 L474,183.3 L476,183.4 L478,183.5 L480,183.6 L482,183.7 L484,183.8 L486,183.9 L488,184.0 L490,184.1 L492,184.2 L494,184.4 L496,184.5 L498,184.6 L500,184.7 L502,184.8 L504,184.9 L506,185.0 L508,185.1 L510,185.2 L512,185.2 L514,185.3 L516,185.4 L518,185.5 L520,185.6 L522,185.7 L524,185.7 L526,185.8 L528,185.9 L530,186.0 L532,186.1 L534,186.1 L536,186.2 L538,186.3 L540,186.4 L542,186.5 L544,186.5 L546,186.6 L548,186.7 L550,186.7 L552,186.8 L554,186.8 L556,186.9 L558,186.9 L560,186.9 L562,186.9 L564,186.9 L566,186.8 L568,186.8 L570,186.7 L572,186.6 L574,186.5 L576,186.4 L578,186.2 L580,186.0 L582,185.8 L584,185.6 L586,185.3 L588,185.0 L590,184.7 L592,184.4 L594,184.1 L596,183.7 L598,183.3 L600,182.9 L602,182.5 L604,182.1 L606,181.6 L608,181.2 L610,180.8 L612,180.3 L614,179.9 L616,179.6 L618,179.2 L620,178.9 L622,178.6 L624,178.4 L626,178.2 L628,178.0 L630,177.9 L632,177.9 L634,177.9 L636,177.9 L638,178.0 L640,178.1 L642,178.3 L644,178.5 L646,178.8 L648,179.1 L650,179.4 L652,179.7 L654,180.1 L656,180.4 L658,180.8 L660,181.2 L662,181.6 L664,182.0 L666,182.5 L668,182.9 L670,183.4 L672,183.8 L674,184.3 L676,184.8 L678,185.2 L680,185.7 L682,186.2 L684,186.6 L686,187.0 L688,187.5 L690,187.9 L692,188.3 L694,188.6 L696,189.0 L698,189.3 L700,189.6 L702,189.9 L704,190.1 L706,190.3 L708,190.5 L710,190.7 L712,190.9 L714,191.0 L716,191.1 L718,191.2 L720,191.3 L722,191.4 L724,191.5 L726,191.6 L728,191.6 L730,191.7 L732,191.8 L734,191.8 L736,191.9 L738,192.0 L740,192.1 L742,192.2 L744,192.3 L746,192.4 L748,192.5 L750,192.6 L752,192.8 L754,192.9 L756,193.0 L758,193.2 L760,193.3 L762,193.5 L764,193.7 L766,193.8 L768,194.0 L770,194.2 L772,194.3 L774,194.5 L776,194.7" stroke="#86c48c" stroke-width="1.55"/>
<path d="M54,157.3 L56,157.4 L58,157.5 L60,157.6 L62,157.8 L64,157.9 L66,158.0 L68,158.1 L70,158.2 L72,158.4 L74,158.5 L76,158.6 L78,158.7 L80,158.8 L82,158.9 L84,159.1 L86,159.2 L88,159.3 L90,159.4 L92,159.5 L94,159.6 L96,159.6 L98,159.7 L100,159.7 L102,159.8 L104,159.8 L106,159.8 L108,159.8 L110,159.7 L112,159.7 L114,159.6 L116,159.5 L118,159.3 L120,159.2 L122,159.0 L124,158.8 L126,158.6 L128,158.4 L130,158.2 L132,157.9 L134,157.7 L136,157.4 L138,157.1 L140,156.7 L142,156.4 L144,156.1 L146,155.7 L148,155.3 L150,154.9 L152,154.6 L154,154.2 L156,153.8 L158,153.3 L160,152.9 L162,152.5 L164,152.1 L166,151.6 L168,151.1 L170,150.6 L172,150.0 L174,149.4 L176,148.7 L178,147.9 L180,147.0 L182,146.0 L184,144.9 L186,143.7 L188,142.4 L190,141.0 L192,139.4 L194,137.8 L196,136.0 L198,134.2 L200,132.2 L202,130.2 L204,128.0 L206,125.7 L208,123.2 L210,120.6 L212,117.9 L214,114.9 L216,111.7 L218,108.4 L220,104.8 L222,101.0 L224,97.0 L226,92.8 L228,88.5 L230,83.9 L232,79.3 L234,74.5 L236,69.7 L238,64.9 L240,60.3 L242,56.0 L244,52.2 L246,48.8 L248,46.0 L250,43.8 L252,42.3 L254,41.4 L256,41.2 L258,41.7 L260,42.8 L262,44.6 L264,47.0 L266,49.9 L268,53.2 L270,56.9 L272,60.7 L274,64.7 L276,68.7 L278,72.6 L280,76.5 L282,80.3 L284,83.8 L286,87.3 L288,90.5 L290,93.6 L292,96.6 L294,99.4 L296,102.0 L298,104.4 L300,106.6 L302,108.7 L304,110.7 L306,112.6 L308,114.4 L310,116.2 L312,118.0 L314,119.8 L316,121.6 L318,123.4 L320,125.3 L322,127.2 L324,129.2 L326,131.2 L328,133.3 L330,135.6 L332,137.9 L334,140.3 L336,142.7 L338,145.1 L340,147.3 L342,149.5 L344,151.6 L346,153.5 L348,155.2 L350,156.8 L352,158.3 L354,159.6 L356,160.8 L358,161.8 L360,162.8 L362,163.8 L364,164.7 L366,165.6 L368,166.4 L370,167.2 L372,167.9 L374,168.6 L376,169.3 L378,169.9 L380,170.4 L382,171.0 L384,171.5 L386,172.0 L388,172.5 L390,172.9 L392,173.4 L394,173.8 L396,174.3 L398,174.7 L400,175.2 L402,175.6 L404,176.0 L406,176.5 L408,176.9 L410,177.3 L412,177.7 L414,178.1 L416,178.4 L418,178.7 L420,179.0 L422,179.3 L424,179.5 L426,179.7 L428,179.9 L430,180.1 L432,180.2 L434,180.4 L436,180.5 L438,180.6 L440,180.7 L442,180.8 L444,180.9 L446,181.0 L448,181.0 L450,181.1 L452,181.1 L454,181.2 L456,181.3 L458,181.3 L460,181.4 L462,181.4 L464,181.5 L466,181.6 L468,181.6 L470,181.7 L472,181.8 L474,181.9 L476,182.0 L478,182.1 L480,182.2 L482,182.3 L484,182.4 L486,182.5 L488,182.6 L490,182.7 L492,182.9 L494,183.0 L496,183.1 L498,183.2 L500,183.3 L502,183.4 L504,183.5 L506,183.6 L508,183.7 L510,183.8 L512,183.9 L514,184.0 L516,184.0 L518,184.1 L520,184.2 L522,184.3 L524,184.4 L526,184.5 L528,184.5 L530,184.6 L532,184.7 L534,184.8 L536,184.9 L538,184.9 L540,185.0 L542,185.1 L544,185.2 L546,185.2 L548,185.3 L550,185.3 L552,185.4 L554,185.4 L556,185.5 L558,185.5 L560,185.5 L562,185.5 L564,185.5 L566,185.5 L568,185.4 L570,185.4 L572,185.3 L574,185.2 L576,185.0 L578,184.9 L580,184.7 L582,184.5 L584,184.3 L586,184.0 L588,183.7 L590,183.4 L592,183.1 L594,182.8 L596,182.4 L598,182.0 L600,181.6 L602,181.2 L604,180.7 L606,180.3 L608,179.8 L610,179.3 L612,178.9 L614,178.5 L616,178.1 L618,177.7 L620,177.4 L622,177.1 L624,176.9 L626,176.7 L628,176.5 L630,176.5 L632,176.4 L634,176.4 L636,176.5 L638,176.6 L640,176.7 L642,176.9 L644,177.1 L646,177.4 L648,177.7 L650,178.0 L652,178.3 L654,178.7 L656,179.0 L658,179.4 L660,179.8 L662,180.2 L664,180.7 L666,181.1 L668,181.6 L670,182.0 L672,182.5 L674,183.0 L676,183.4 L678,183.9 L680,184.4 L682,184.9 L684,185.3 L686,185.8 L688,186.2 L690,186.6 L692,187.1 L694,187.4 L696,187.8 L698,188.1 L700,188.4 L702,188.7 L704,189.0 L706,189.2 L708,189.4 L710,189.6 L712,189.7 L714,189.8 L716,190.0 L718,190.1 L720,190.2 L722,190.2 L724,190.3 L726,190.4 L728,190.4 L730,190.5 L732,190.6 L734,190.6 L736,190.7 L738,190.8 L740,190.8 L742,190.9 L744,191.0 L746,191.1 L748,191.3 L750,191.4 L752,191.5 L754,191.7 L756,191.8 L758,192.0 L760,192.1 L762,192.3 L764,192.4 L766,192.6 L768,192.8 L770,193.0 L772,193.1 L774,193.3 L776,193.5" stroke="#3c9050" stroke-width="1.55"/>
</g>
<g stroke="#666" stroke-width="1.6" fill="none">
<rect x="54.0" y="17.9" width="722.2" height="374.2"/>
</g>
<g stroke="#666" stroke-width="1.2">
<line x1="234.3" y1="391.9" x2="234.3" y2="386"/>
<line x1="414.8" y1="391.9" x2="414.8" y2="386"/>
<line x1="595.4" y1="391.9" x2="595.4" y2="386"/>
<line x1="144" y1="391.9" x2="144" y2="389"/>
<line x1="324.5" y1="391.9" x2="324.5" y2="389"/>
<line x1="505.1" y1="391.9" x2="505.1" y2="389"/>
<line x1="685.6" y1="391.9" x2="685.6" y2="389"/>
<line x1="54.0" y1="258.6" x2="59" y2="258.6"/>
<line x1="54.0" y1="125.3" x2="59" y2="125.3"/>
<line x1="54.0" y1="325.2" x2="56.7" y2="325.2"/>
<line x1="54.0" y1="191.9" x2="56.7" y2="191.9"/>
<line x1="54.0" y1="58.6" x2="56.7" y2="58.6"/>
</g>
<g stroke="#222" stroke-width="1.6">
<line x1="352.5" y1="321" x2="398.2" y2="300.8" stroke-width="1.45" stroke="#2a2a2a"/>
<line x1="389.5" y1="164" x2="389.5" y2="31" stroke-width="1.9"/>
</g>
<path d="M389.5,24 L386.8,33.5 L392.2,33.5 Z" fill="#222"/>
<text transform="translate(50.2,26.2) scale(0.78,1)" font-size="20" text-anchor="end" fill="#1e1e1e" stroke="#1e1e1e" stroke-width="0.3">2.8</text>
<text transform="translate(50.3,133.7) scale(0.78,1)" font-size="20" text-anchor="end" fill="#1e1e1e" stroke="#1e1e1e" stroke-width="0.3">2</text>
<path d="M46.9,253.3 L45.2,253.3 C44.7,254.9 43.5,256.1 41.9,256.8 L41.9,258.4 C43.1,258 44.2,257.3 45.0,256.4 L45.0,267.4 L46.9,267.4 Z" fill="#1e1e1e"/>
<text transform="translate(50.2,400) scale(0.78,1)" font-size="20" text-anchor="end" fill="#1e1e1e" stroke="#1e1e1e" stroke-width="0.3">0</text>
<text transform="translate(53.7,419.5) scale(0.78,1)" font-size="20" text-anchor="middle" fill="#1e1e1e" stroke="#1e1e1e" stroke-width="0.3">350</text>
<text transform="translate(234.2,419.5) scale(0.78,1)" font-size="20" text-anchor="middle" fill="#1e1e1e" stroke="#1e1e1e" stroke-width="0.3">400</text>
<text transform="translate(414.7,419.5) scale(0.78,1)" font-size="20" text-anchor="middle" fill="#1e1e1e" stroke="#1e1e1e" stroke-width="0.3">450</text>
<text transform="translate(595.3,419.5) scale(0.78,1)" font-size="20" text-anchor="middle" fill="#1e1e1e" stroke="#1e1e1e" stroke-width="0.3">500</text>
<text transform="translate(776,419.5) scale(0.78,1)" font-size="20" text-anchor="middle" fill="#1e1e1e" stroke="#1e1e1e" stroke-width="0.3">550</text>
<text transform="translate(415,443) scale(0.865,1)" font-size="18" text-anchor="middle" fill="#1e1e1e" stroke="#1e1e1e" stroke-width="0.3">Wavelength [nm]</text>
<text transform="translate(20.5,205.2) rotate(-90) scale(0.86,1)" font-size="18" text-anchor="middle" fill="#1e1e1e" stroke="#1e1e1e" stroke-width="0.3">Abs</text>
<text transform="translate(390.8,289.8) scale(1.018,1)" font-size="17" text-anchor="start" fill="#1e1e1e" stroke="#1e1e1e" stroke-width="0.3">PtTAOPP-silica hybrid</text>
<text transform="translate(404.5,309.5) scale(1.02,1)" font-size="17" text-anchor="start" fill="#1e1e1e" stroke="#1e1e1e" stroke-width="0.3">acid-base catalysis</text>
<text transform="translate(411.0,151.8) rotate(-90) scale(1.015,1)" font-size="17" text-anchor="start" fill="#1e1e1e" stroke="#1e1e1e" stroke-width="0.3">Increasing CO<tspan font-size="9" dx="0.8" dy="6.3">2</tspan></text>
<text transform="translate(429.1,140.9) rotate(-90)" font-size="17" text-anchor="start" fill="#1e1e1e" stroke="#1e1e1e" stroke-width="0.3">concetration</text>
<text transform="translate(455.2,148.3) rotate(-90)" font-size="17.3" text-anchor="start" fill="#1e1e1e" stroke="#1e1e1e" stroke-width="0.3">0.033-0.477 M</text>
</svg>
</body></html>
